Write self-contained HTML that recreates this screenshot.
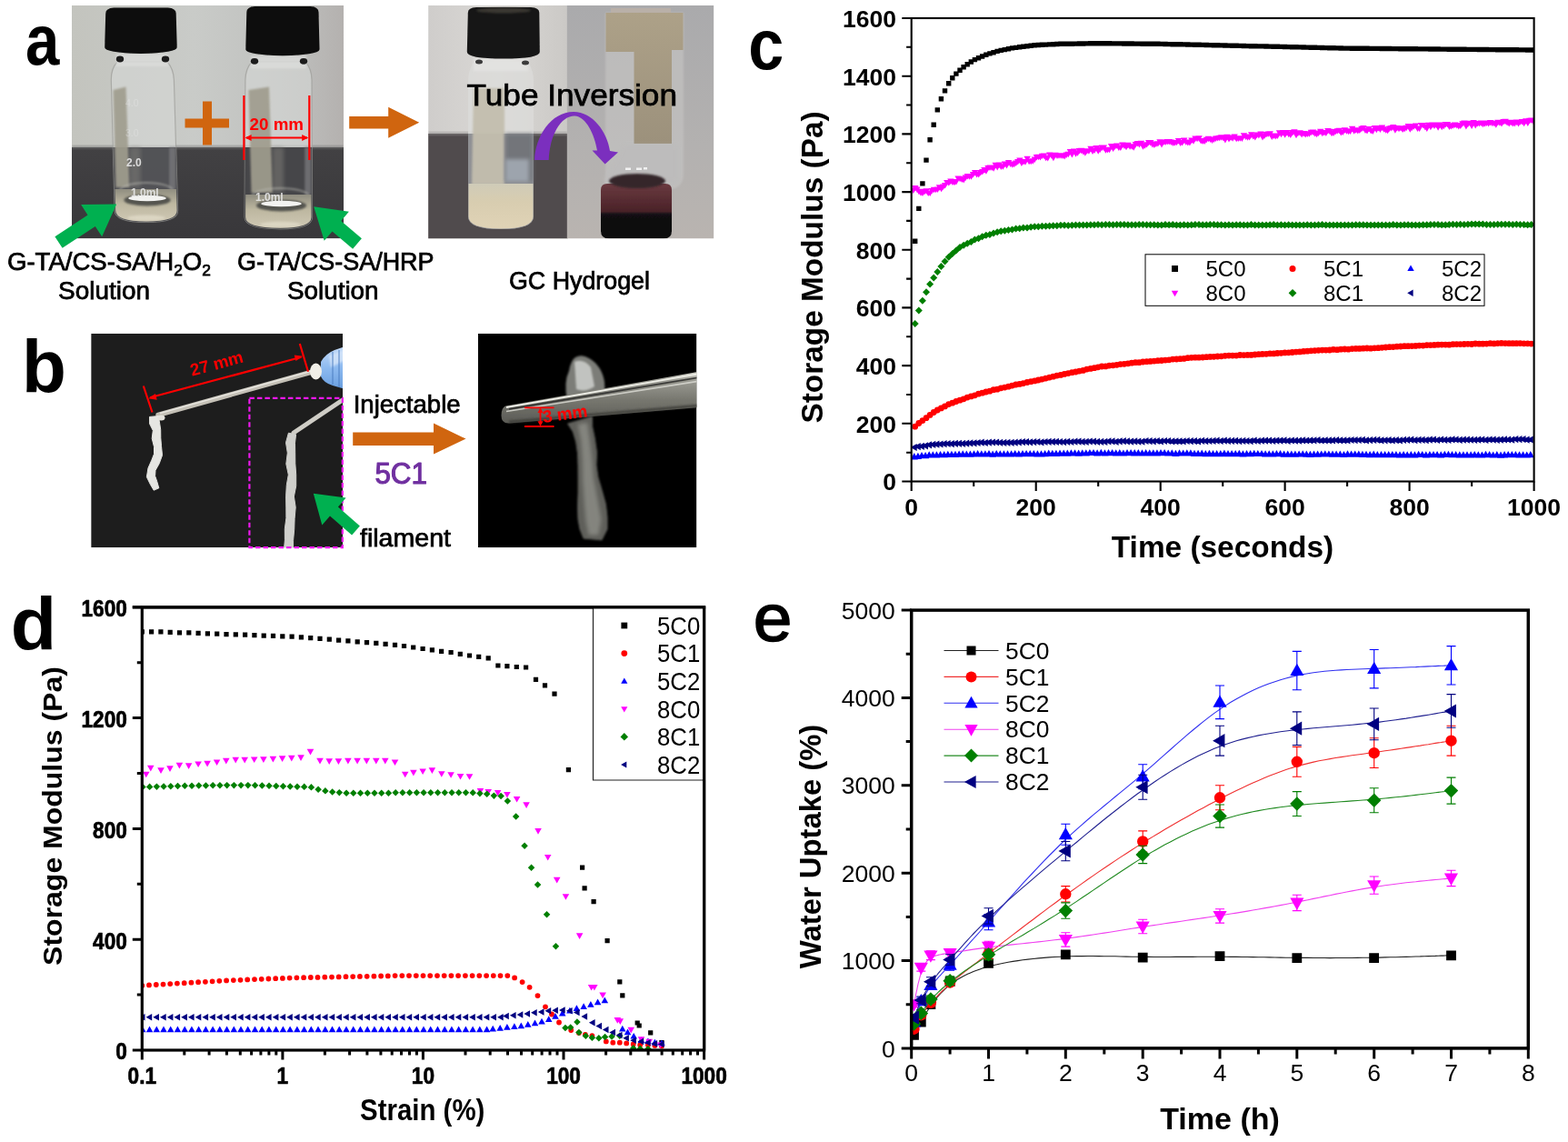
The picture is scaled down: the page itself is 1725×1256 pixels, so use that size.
<!DOCTYPE html>
<html lang="en">
<head>
<meta charset="utf-8">
<title>Figure: GC hydrogel gelation, injectability, rheology and water uptake</title>
<style>
html,body{margin:0;padding:0;background:#ffffff;}
body{width:1725px;height:1256px;overflow:hidden;font-family:"Liberation Sans",Arial,Helvetica,sans-serif;}
svg{display:block;}
text{white-space:pre;}
</style>
</head>
<body>
<svg width="1725" height="1256" viewBox="0 0 1725 1256">
<rect width="1725" height="1256" fill="#ffffff"/>
<g id="panel-a">
<defs>
<filter id="b1" x="-20%" y="-20%" width="140%" height="140%"><feGaussianBlur stdDeviation="1"/></filter>
<filter id="b2" x="-20%" y="-20%" width="140%" height="140%"><feGaussianBlur stdDeviation="2"/></filter>
<filter id="b3" x="-30%" y="-30%" width="160%" height="160%"><feGaussianBlur stdDeviation="3.5"/></filter>
<filter id="b05" x="-20%" y="-20%" width="140%" height="140%"><feGaussianBlur stdDeviation="0.6"/></filter>
<linearGradient id="wall1" x1="0" y1="0" x2="1" y2="0"><stop offset="0" stop-color="#c3c4be"/><stop offset="0.45" stop-color="#c9cbc8"/><stop offset="0.8" stop-color="#bfc0be"/><stop offset="1" stop-color="#b4b1af"/></linearGradient>
<linearGradient id="tab1" x1="0" y1="0" x2="0" y2="1"><stop offset="0" stop-color="#424143"/><stop offset="1" stop-color="#38373a"/></linearGradient>
<linearGradient id="wall2" x1="0" y1="0" x2="1" y2="0"><stop offset="0" stop-color="#cfcdcb"/><stop offset="0.5" stop-color="#dad8d5"/><stop offset="1" stop-color="#cbc9c6"/></linearGradient>
<linearGradient id="wall3" x1="0" y1="0" x2="0" y2="1"><stop offset="0" stop-color="#aaaaac"/><stop offset="0.6" stop-color="#b3b1b0"/><stop offset="1" stop-color="#b9b4b0"/></linearGradient>
<linearGradient id="liq1" x1="0" y1="0" x2="0" y2="1"><stop offset="0" stop-color="#8f8d80"/><stop offset="0.45" stop-color="#bdb7a0"/><stop offset="1" stop-color="#cfc8b4"/></linearGradient>
<linearGradient id="cream" x1="0" y1="0" x2="0" y2="1"><stop offset="0" stop-color="#cfcbb8"/><stop offset="0.4" stop-color="#d8cdb0"/><stop offset="1" stop-color="#e0d3b6"/></linearGradient>
<linearGradient id="gel" x1="0" y1="0" x2="0" y2="1"><stop offset="0" stop-color="#ada188"/><stop offset="1" stop-color="#9c917c"/></linearGradient>
<linearGradient id="capm" x1="0" y1="0" x2="0" y2="1"><stop offset="0" stop-color="#6a3a40"/><stop offset="0.5" stop-color="#4a2228"/><stop offset="0.56" stop-color="#121012"/><stop offset="1" stop-color="#0c0c0c"/></linearGradient>
<clipPath id="cp1"><rect x="79" y="6" width="299" height="256.2"/></clipPath>
<clipPath id="cp2"><rect x="471.2" y="6" width="314" height="256.2"/></clipPath>
</defs>
<g clip-path="url(#cp1)">
<rect x="79" y="6" width="299" height="157" fill="url(#wall1)"/>
<rect x="79" y="162" width="299" height="100.5" fill="url(#tab1)"/>
<rect x="79" y="160" width="299" height="3.5" fill="#7c7c7c" opacity="0.55" filter="url(#b1)"/>
<path d="M129 68 Q122 76 122.3 88 L126.2 231.5 Q126.5 244.5 161 244.5 Q196 244.5 195.6 231.5 L191.4 88 Q191 76 184 68z" fill="#d6d8d6" opacity="0.62" filter="url(#b05)"/>
<path d="M129 68 Q122 76 122.3 88 L126.2 231.5 Q126.5 244.5 161 244.5 Q196 244.5 195.6 231.5 L191.4 88 Q191 76 184 68z" fill="none" stroke="#9c9c98" stroke-width="1.2" opacity="0.7" filter="url(#b05)"/>
<path d="M124.3 162 H193.6 L195.6 231.5 Q196 244.5 161 244.5 Q126.5 244.5 126.2 231.5z" fill="#505052" opacity="0.95" filter="url(#b05)"/>
<rect x="186.1" y="162" width="7" height="46" fill="#77777a" opacity="0.8" filter="url(#b1)"/>
<path d="M124.5 99 L138.5 95.5 L142.5 206 H127.5z" fill="#a09d8e" opacity="0.92" filter="url(#b1)"/>
<rect x="142.5" y="162" width="12" height="44" fill="#7b7a76" opacity="0.55" filter="url(#b2)"/>
<ellipse cx="161" cy="210" rx="29.2" ry="9" fill="none" stroke="#b9b9b2" stroke-width="2" opacity="0.55" filter="url(#b1)"/>
<path d="M126.5 208 H193.9 L194.6 231.5 Q195 243.5 161 243.5 Q127.5 243.5 127.2 231.5z" fill="url(#liq1)" filter="url(#b05)"/>
<ellipse cx="162" cy="220" rx="25.7" ry="6.5" fill="#55554f" filter="url(#b1)"/>
<ellipse cx="162" cy="218" rx="20.8" ry="3.2" fill="#f2f2f0" filter="url(#b05)"/>
<ellipse cx="161" cy="239.5" rx="20.8" ry="3" fill="#e9e4d2" opacity="0.55" filter="url(#b1)"/>
<rect x="128" y="59" width="57" height="14" fill="#dcdddb" opacity="0.8" filter="url(#b1)"/>
<ellipse cx="132" cy="65" rx="4.2" ry="3.4" fill="#1c1c1c" filter="url(#b05)"/>
<ellipse cx="182" cy="65" rx="4.2" ry="3.4" fill="#1c1c1c" filter="url(#b05)"/>
<path d="M142 78 h4 M155 78 h3 M167 78 h5" stroke="#ffffff" stroke-width="3" opacity="0.9" filter="url(#b05)"/>
<path d="M116.2 15.1 Q116.2 9.1 125.2 8.6 H184.7 Q193.7 9.1 193.7 15.1 L194.7 52 Q194.7 58 154.9 59 Q115.2 58 115.2 52z" fill="#0b0b0b" filter="url(#b05)"/>
<path d="M277 68 Q270 76 269.9 88 L269.1 238.8 Q269 251.8 308.5 251.8 Q343.5 251.8 343.5 238.8 L343 88 Q343 76 336 68z" fill="#d6d8d6" opacity="0.62" filter="url(#b05)"/>
<path d="M277 68 Q270 76 269.9 88 L269.1 238.8 Q269 251.8 308.5 251.8 Q343.5 251.8 343.5 238.8 L343 88 Q343 76 336 68z" fill="none" stroke="#9c9c98" stroke-width="1.2" opacity="0.7" filter="url(#b05)"/>
<path d="M269.5 162 H343.2 L343.5 238.8 Q343.5 251.8 308.5 251.8 Q269 251.8 269.1 238.8z" fill="#434345" opacity="0.95" filter="url(#b05)"/>
<rect x="335.3" y="162" width="7" height="52" fill="#77777a" opacity="0.8" filter="url(#b1)"/>
<path d="M273.5 99 L296 95.5 L300 212 H276.5z" fill="#a09d8e" opacity="0.92" filter="url(#b1)"/>
<rect x="300" y="162" width="12" height="50" fill="#7b7a76" opacity="0.55" filter="url(#b2)"/>
<ellipse cx="308.5" cy="216" rx="31.3" ry="9" fill="none" stroke="#b9b9b2" stroke-width="2" opacity="0.55" filter="url(#b1)"/>
<path d="M270.2 214 H342.4 L342.5 238.8 Q342.5 250.8 308.5 250.8 Q270 250.8 270.1 238.8z" fill="url(#liq1)" filter="url(#b05)"/>
<ellipse cx="309.5" cy="226" rx="27.6" ry="6.5" fill="#55554f" filter="url(#b1)"/>
<ellipse cx="309.5" cy="224" rx="22.3" ry="3.2" fill="#f2f2f0" filter="url(#b05)"/>
<ellipse cx="308.5" cy="246.8" rx="22.3" ry="3" fill="#e9e4d2" opacity="0.55" filter="url(#b1)"/>
<rect x="276" y="61.3" width="61" height="14" fill="#dcdddb" opacity="0.8" filter="url(#b1)"/>
<ellipse cx="280" cy="67.3" rx="4.2" ry="3.4" fill="#1c1c1c" filter="url(#b05)"/>
<ellipse cx="334" cy="67.3" rx="4.2" ry="3.4" fill="#1c1c1c" filter="url(#b05)"/>
<path d="M289.5 78 h4 M302.5 78 h3 M314.5 78 h5" stroke="#ffffff" stroke-width="3" opacity="0.9" filter="url(#b05)"/>
<path d="M271.3 13.5 Q271.3 7.5 280.3 7 H341.5 Q350.5 7.5 350.5 13.5 L351.5 54.3 Q351.5 60.3 310.9 61.3 Q270.3 60.3 270.3 54.3z" fill="#0b0b0b" filter="url(#b05)"/>
<g font-family='"Liberation Sans", Arial, Helvetica, sans-serif' font-size="10.5" fill="#e8e8e8" opacity="0.9" filter="url(#b05)"><text x="138" y="117" opacity="0.5">4.0</text><text x="138" y="150" opacity="0.45">3.0</text><text x="139" y="183" font-size="12" font-weight="bold">2.0</text><text x="144" y="216" font-size="12" font-weight="bold">1.0ml</text><text x="281" y="221" font-size="12" font-weight="bold">1.0ml</text></g>
</g>
<path d="M203.5 130.5H252V140.5H203.5zM223 111.5H233V159.5H223z" fill="#d0650f"/>
<path d="M268.4 105V176M340.3 105V176M271 151.5H338" stroke="#ff0000" stroke-width="2.2" fill="none"/>
<path d="M269.6 151.5l7-3.4v6.8zM339.2 151.5l-7-3.4v6.8z" fill="#ff0000"/>
<text x="304.3" y="143.3" text-anchor="middle" font-family='"Liberation Sans", Arial, Helvetica, sans-serif' font-size="18.8" font-weight="bold" fill="#ff0000">20 mm</text>
<path d="M68.6 272.8L104.8 248.9L112.2 260.2L128.2 224.5L89.1 225.1L96.5 236.4L60.4 260.2z" fill="#00b050"/>
<path d="M397.9 262.3L375.2 243L383.9 232.7L345.2 227.3L356.7 264.7L365.5 254.4L388.1 273.7z" fill="#00b050"/>
<path d="M384.2 141.6L427.2 141.6L427.2 151.8L461.2 134.8L427.2 117.8L427.2 128.1L384.2 128.1z" fill="#d0650f"/>
<g clip-path="url(#cp2)">
<rect x="471" y="6" width="153.5" height="257" fill="url(#wall2)"/>
<rect x="471" y="147" width="153.5" height="116" fill="#504b4d"/>
<rect x="471" y="145" width="153.5" height="4" fill="#8a8888" opacity="0.5" filter="url(#b1)"/>
<rect x="623.8" y="6" width="162" height="257" fill="url(#wall3)"/>
<path d="M521 68 Q515 78 515 90 V238 Q515 252 551 252 Q587 252 587 238 V90 Q587 78 581 68z" fill="#dcdcda" opacity="0.8" filter="url(#b05)"/>
<path d="M515 147 H587 V238 Q587 252 551 252 Q515 252 515 238z" fill="#8a8c90" opacity="0.9" filter="url(#b05)"/>
<path d="M521 97 H555 V203 H519z" fill="#c3beae" opacity="0.95" filter="url(#b1)"/>
<path d="M556 147 H586 V200 H556z" fill="#6f7378" opacity="0.9" filter="url(#b2)"/>
<path d="M556 175 H582 V200 H556z" fill="#a8b0ba" opacity="0.8" filter="url(#b2)"/>
<path d="M515.5 202 H586.5 V238 Q586.5 251.5 551 251.5 Q515.5 251.5 515.5 238z" fill="url(#cream)" filter="url(#b05)"/>
<rect x="521" y="64" width="60" height="14" fill="#e4e4e2" opacity="0.8" filter="url(#b1)"/>
<ellipse cx="527" cy="68" rx="4" ry="2.5" fill="#3a3a3a" filter="url(#b05)"/><ellipse cx="578" cy="69" rx="4" ry="2.5" fill="#3a3a3a" filter="url(#b05)"/>
<path d="M538 82h4M551 82h3M564 82h5" stroke="#fff" stroke-width="3" filter="url(#b05)"/>
<path d="M514.8 14 Q514.8 8.3 524 8 H584 Q593.3 8.3 593.3 14 L593.8 57 Q593.8 64.5 554 64.5 Q513.8 64.5 513.8 57z" fill="#171717" filter="url(#b05)"/>
<ellipse cx="554" cy="11.5" rx="30" ry="3" fill="#3b3832" filter="url(#b1)"/>
<path d="M666 14 H752 V190 Q752 205 740 208 H664 Q666 200 666 190z" fill="#c2c1c0" opacity="0.75" filter="url(#b1)"/>
<path d="M666.5 14 H751.5 V55 H739 V158 H697.5 V57 H666.5z" fill="url(#gel)" filter="url(#b05)"/><path d="M667 15.5H751" stroke="#cfc8b4" stroke-width="2" opacity="0.8" filter="url(#b05)"/><path d="M699 58 V156" stroke="#c9c6bc" stroke-width="2" opacity="0.6" filter="url(#b1)"/><path d="M741 60 V156" stroke="#d2d0c8" stroke-width="2.5" opacity="0.6" filter="url(#b1)"/>
<path d="M672 9 H738 V14 H672z" fill="#b9b0a8" filter="url(#b05)"/>
<path d="M686 160 H745 V200 H664z" fill="#bdbcbc" opacity="0.9" filter="url(#b2)"/>
<path d="M661 209 Q661 202 668 202 H732 Q739 202 739 209 V254 Q739 262.5 730 262.5 H670 Q661 262.5 661 254z" fill="url(#capm)" filter="url(#b05)"/>
<ellipse cx="701" cy="199" rx="31" ry="8" fill="#35272b" filter="url(#b1)"/>
<path d="M688 186h6M700 186h6M708 185h4" stroke="#fff" stroke-width="3" opacity="0.8" filter="url(#b05)"/>
</g>
<path d="M588 176 C589 150 606 123 631 123 C652 123 668 145 671 166 L680 167.5 L665.6 180.5 L651.5 165.5 L657 165.5 C654 148 645 128 632 127.5 C617 127.5 605 148 603.7 176z" fill="#7b2fbe"/>
<text x="513.6" y="115.8" textLength="231.4" lengthAdjust="spacingAndGlyphs" font-family='"Liberation Sans", Arial, Helvetica, sans-serif' font-size="32.4" font-weight="normal" fill="#000" stroke="#000" stroke-width="0.75">Tube Inversion</text>
<text x="8" y="296.5" textLength="224" lengthAdjust="spacingAndGlyphs" font-family='"Liberation Sans", Arial, Helvetica, sans-serif' font-size="27" fill="#000" stroke="#000" stroke-width="0.75">G-TA/CS-SA/H<tspan font-size="17" dy="6">2</tspan><tspan dy="-6">O</tspan><tspan font-size="17" dy="6">2</tspan></text>
<text x="64" y="328.5" textLength="101" lengthAdjust="spacingAndGlyphs" font-family='"Liberation Sans", Arial, Helvetica, sans-serif' font-size="27" font-weight="normal" fill="#000" stroke="#000" stroke-width="0.75">Solution</text>
<text x="261" y="296.5" textLength="216.5" lengthAdjust="spacingAndGlyphs" font-family='"Liberation Sans", Arial, Helvetica, sans-serif' font-size="27" font-weight="normal" fill="#000" stroke="#000" stroke-width="0.75">G-TA/CS-SA/HRP</text>
<text x="316" y="328.5" textLength="100.5" lengthAdjust="spacingAndGlyphs" font-family='"Liberation Sans", Arial, Helvetica, sans-serif' font-size="27" font-weight="normal" fill="#000" stroke="#000" stroke-width="0.75">Solution</text>
<text x="560" y="318" textLength="155" lengthAdjust="spacingAndGlyphs" font-family='"Liberation Sans", Arial, Helvetica, sans-serif' font-size="27" font-weight="normal" fill="#000" stroke="#000" stroke-width="0.75">GC Hydrogel</text>
<text transform="translate(27.98,71.22) scale(0.672,0.784)" font-family='"Liberation Sans", Arial, Helvetica, sans-serif' font-weight="bold" font-size="100" fill="#000">a</text>
</g>
<g id="panel-b">
<defs>
<clipPath id="cpb1"><rect x="100.2" y="366.8" width="276.8" height="235.4"/></clipPath>
<clipPath id="cpb2"><rect x="525.8" y="366.8" width="240.6" height="235.4"/></clipPath>
<linearGradient id="tw" x1="0" y1="0" x2="0" y2="1"><stop offset="0" stop-color="#d8d8d0"/><stop offset="0.18" stop-color="#9a9a92"/><stop offset="0.55" stop-color="#77776f"/><stop offset="1" stop-color="#5a5a55"/></linearGradient>
<linearGradient id="hub" x1="0" y1="0" x2="0" y2="1"><stop offset="0" stop-color="#c6dcf8"/><stop offset="0.5" stop-color="#8dbaf0"/><stop offset="1" stop-color="#6a9fdf"/></linearGradient>
</defs>
<g clip-path="url(#cpb1)">
<rect x="100.2" y="366.8" width="276.8" height="235.4" fill="#1d1d1d"/>
<path d="M174 456.3 L343 409.2" stroke="#c4c0b6" stroke-width="5.4" stroke-linecap="round" filter="url(#b05)"/>
<path d="M176 454.6 L343 408" stroke="#e6e4de" stroke-width="1.6" filter="url(#b05)"/>
<path d="M353 398 Q358 389 368 385 L380 381 V428 L366 424 Q356 421 353 414z" fill="url(#hub)" filter="url(#b05)"/>
<path d="M362 391 L380 384 V396 L364 404z" fill="#d6e6fa" opacity="0.8" filter="url(#b1)"/><path d="M366 387V423M373 385V426" stroke="#4a7cc0" stroke-width="1.6" opacity="0.6" filter="url(#b05)"/>
<ellipse cx="347.5" cy="408.5" rx="6.5" ry="9" fill="#f1efe8" filter="url(#b05)"/>
<path d="M164.5 458.4L164.6 466.1L168.3 473.5L167.2 482.3L169.5 491.4L169.5 499.3L166.8 506.2L163 514.7L161.4 524.6L165.3 532.6L169.2 539.2L174.8 536.8L172.7 529.4L170.6 523.4L171 517.3L175.2 509.8L178.5 500.7L177.5 490.6L176.8 481.7L176.7 472.5L175.4 463.9L174.5 457.6z" fill="#e6e6e2" opacity="1" filter="url(#b05)" stroke="#e6e6e2" stroke-width="1" stroke-linejoin="round"/>
<ellipse cx="177.5" cy="459.5" rx="4" ry="3" fill="#e4e2dc" filter="url(#b05)"/>
<path d="M376 440.5 L323 476" stroke="#cfcdc6" stroke-width="5" stroke-linecap="round" filter="url(#b05)"/>
<path d="M317.4 476.2L314.5 486.8L316.3 498.1L314.8 510.2L317.3 522.1L315.3 533.5L314.6 545.9L314.8 558.1L314.9 569.7L313.3 581.7L313.4 593.8L312.5 603.8L322.5 604.2L322.6 594.2L323.7 582.3L324.1 570.3L325.2 557.9L323.4 546.1L325.7 534.5L325.7 521.9L324.8 509.8L324.7 497.9L324.5 487.2L325.6 477.8z" fill="#cfcfcb" opacity="1" filter="url(#b05)" stroke="#cfcfcb" stroke-width="1" stroke-linejoin="round"/>
</g>
<rect x="274.4" y="437.8" width="102.4" height="164.3" fill="none" stroke="#f018f0" stroke-width="2.2" stroke-dasharray="5.5 3"/>
<path d="M157.8 424.5L167.5 453.5M329.8 378L339 408.8M165 437.3L331.5 392.8" stroke="#ff0000" stroke-width="2.2" fill="none"/>
<path d="M163.2 438.3l7.7-5.2 1.8 6.6zM333.2 391.8l-7.7 5.2-1.8-6.6z" fill="#ff0000"/>
<text transform="translate(240,406) rotate(-15.3)" text-anchor="middle" font-family='"Liberation Sans", Arial, Helvetica, sans-serif' font-size="18.8" font-weight="bold" fill="#ff0000">27 mm</text>
<path d="M395.9 578.4L371.9 557.4L380.6 547.4L344.8 542.8L354.3 577.6L363 567.6L387.1 588.6z" fill="#00b050"/>
<text x="388.7" y="454.3" textLength="117.9" lengthAdjust="spacingAndGlyphs" font-family='"Liberation Sans", Arial, Helvetica, sans-serif' font-size="27.5" font-weight="normal" fill="#000" stroke="#000" stroke-width="0.75">Injectable</text>
<path d="M388.2 489.9L477 489.9L477 499.6L512.5 482.6L477 465.6L477 475.4L388.2 475.4z" fill="#d0650f"/>
<text x="412.4" y="532" textLength="57.6" lengthAdjust="spacingAndGlyphs" font-family='"Liberation Sans", Arial, Helvetica, sans-serif' font-size="33" fill="#7030a0" stroke="#7030a0" stroke-width="1.1" stroke-linejoin="round">5C1</text>
<text x="396" y="600.5" textLength="100" lengthAdjust="spacingAndGlyphs" font-family='"Liberation Sans", Arial, Helvetica, sans-serif' font-size="27.5" font-weight="normal" fill="#000" stroke="#000" stroke-width="0.75">filament</text>
<g clip-path="url(#cpb2)">
<rect x="525.8" y="366.8" width="240.6" height="235.4" fill="#000"/>
<path d="M633 393 Q640 389 648 394 Q662 402 665 420 L666 440 H624 Q620 420 626 408 Q628 396 633 393z" fill="#7c7d78" filter="url(#b1)"/>
<path d="M632 398 Q642 394 650 404 L654 425 Q644 432 634 428z" fill="#d9dbd8" opacity="0.75" filter="url(#b1)"/>
<path d="M556 446.5 L770 408.5 V448 L560 465.5 Q551.5 466 551.5 457 Q551.5 448.5 556 446.5z" fill="url(#tw)" filter="url(#b05)"/>
<path d="M557 448 L770 411" stroke="#efefe8" stroke-width="1.8" filter="url(#b05)"/><path d="M557 452.5 L770 419" stroke="#d9d9d2" stroke-width="1.6" opacity="0.85" filter="url(#b05)"/>
<path d="M560 449.8 L770 415" stroke="#2c2c2a" stroke-width="1.8" opacity="0.85" filter="url(#b05)"/>
<path d="M560 464 L770 446" stroke="#3c3c38" stroke-width="2.5" filter="url(#b1)"/>
<path d="M624.6 466L630.4 474.9L633.7 486L635.5 498.7L636 512.4L636.1 527.2L636.1 541.7L635.6 557.5L636 571.2L638 582L642 592.1L662 593.9L668 582L668 568.8L666.4 554.5L661.9 538.3L657.9 524.8L656 511.6L656.5 497.3L654.3 482L651.6 469.1L651.4 458z" fill="#5e5f5a" opacity="1" filter="url(#b1)" stroke="#5e5f5a" stroke-width="1" stroke-linejoin="round"/>
<path d="M636.1 466.8L639.5 484.6L641 505.4L641.5 526.5L643.1 550.9L645 572.6L648 588L658 588L661 571.4L656.9 549.1L652.5 525.5L651 504.6L648.5 483.4L645.9 465.2z" fill="#a9aaa3" opacity="0.5" filter="url(#b2)" stroke="#a9aaa3" stroke-width="1" stroke-linejoin="round"/>
</g>
<path d="M577 448.3H609.5M577 469H609.5M594.5 450V467" stroke="#ff0000" stroke-width="1.8" fill="none"/>
<path d="M594.5 448.6l3 5.5h-6zM594.5 468.7l3-5.5h-6z" fill="#ff0000"/>
<text transform="translate(622.5,461.5) rotate(-8)" text-anchor="middle" font-family='"Liberation Sans", Arial, Helvetica, sans-serif' font-size="19" font-weight="bold" fill="#ff0000">3 mm</text>
<text transform="translate(24,431.1) scale(0.8,0.818)" font-family='"Liberation Sans", Arial, Helvetica, sans-serif' font-weight="bold" font-size="100" fill="#000">b</text>
</g>
<g id="panel-c">
<defs><clipPath id="cpc"><rect x="1002.7" y="20" width="684.9" height="509.5"/></clipPath></defs>
<g clip-path="url(#cpc)">
<path d="M1005.8 498.1L1009.9 505.4L1001.7 505.4zM1009.9 497.7L1014 504.9L1005.8 504.9zM1014 497L1018.1 504.2L1009.9 504.2zM1018.1 497L1022.2 504.2L1014 504.2zM1022.2 496.3L1026.3 503.5L1018.1 503.5zM1026.3 496.2L1030.4 503.4L1022.2 503.4zM1030.4 496.3L1034.5 503.5L1026.3 503.5zM1034.5 495.9L1038.6 503.1L1030.5 503.1zM1038.7 496L1042.8 503.3L1034.6 503.3zM1042.8 495.7L1046.9 502.9L1038.7 502.9zM1046.9 495.8L1051 503L1042.8 503zM1051 495.8L1055.1 503L1046.9 503zM1055.1 495.5L1059.2 502.7L1051 502.7zM1059.2 495.2L1063.3 502.4L1055.1 502.4zM1063.3 495.6L1067.4 502.8L1059.2 502.8zM1067.4 495.5L1071.5 502.7L1063.3 502.7zM1071.5 495.2L1075.6 502.4L1067.4 502.4zM1075.6 495L1079.7 502.2L1071.5 502.2zM1079.8 495.2L1083.8 502.4L1075.7 502.4zM1083.9 495.3L1088 502.5L1079.8 502.5zM1088 494.9L1092.1 502.1L1083.9 502.1zM1092.1 495.5L1096.2 502.7L1088 502.7zM1096.2 494.9L1100.3 502.1L1092.1 502.1zM1100.3 495.3L1104.4 502.5L1096.2 502.5zM1104.4 495.3L1108.5 502.6L1100.3 502.6zM1108.5 495.3L1112.6 502.6L1104.4 502.6zM1112.6 495.2L1116.7 502.4L1108.5 502.4zM1116.7 494.9L1120.8 502.1L1112.6 502.1zM1120.8 495.2L1124.9 502.5L1116.8 502.5zM1125 495L1129 502.2L1120.9 502.2zM1129.1 494.9L1133.2 502.1L1125 502.1zM1133.2 495.1L1137.3 502.3L1129.1 502.3zM1137.3 494.9L1141.4 502.2L1133.2 502.2zM1141.4 495.2L1145.5 502.4L1137.3 502.4zM1145.5 495.2L1149.6 502.4L1141.4 502.4zM1149.6 495L1153.7 502.2L1145.5 502.2zM1153.7 494.6L1157.8 501.9L1149.6 501.9zM1157.8 494.8L1161.9 502L1153.7 502zM1161.9 494.8L1166 502L1157.8 502zM1166 494.5L1170.1 501.8L1162 501.8zM1170.2 494.6L1174.3 501.8L1166.1 501.8zM1174.3 494.6L1178.4 501.8L1170.2 501.8zM1178.4 494.2L1182.5 501.4L1174.3 501.4zM1182.5 494.2L1186.6 501.4L1178.4 501.4zM1186.6 494.5L1190.7 501.7L1182.5 501.7zM1190.7 494.2L1194.8 501.4L1186.6 501.4zM1194.8 494.2L1198.9 501.4L1190.7 501.4zM1198.9 493.9L1203 501.1L1194.8 501.1zM1203 493.9L1207.1 501.1L1198.9 501.1zM1207.1 494.2L1211.2 501.4L1203 501.4zM1211.3 493.7L1215.3 500.9L1207.2 500.9zM1215.4 494.3L1219.5 501.5L1211.3 501.5zM1219.5 494.1L1223.6 501.3L1215.4 501.3zM1223.6 493.9L1227.7 501.1L1219.5 501.1zM1227.7 494.3L1231.8 501.5L1223.6 501.5zM1231.8 494.1L1235.9 501.3L1227.7 501.3zM1235.9 494.4L1240 501.6L1231.8 501.6zM1240 494L1244.1 501.3L1235.9 501.3zM1244.1 494L1248.2 501.2L1240 501.2zM1248.2 494.1L1252.3 501.4L1244.1 501.4zM1252.3 494L1256.4 501.2L1248.3 501.2zM1256.5 494.3L1260.6 501.6L1252.4 501.6zM1260.6 494.1L1264.7 501.3L1256.5 501.3zM1264.7 494.2L1268.8 501.4L1260.6 501.4zM1268.8 494.2L1272.9 501.4L1264.7 501.4zM1272.9 494.3L1277 501.5L1268.8 501.5zM1277 494.1L1281.1 501.3L1272.9 501.3zM1281.1 494.1L1285.2 501.3L1277 501.3zM1285.2 494.4L1289.3 501.6L1281.1 501.6zM1289.3 494.3L1293.4 501.5L1285.2 501.5zM1293.4 494.7L1297.5 501.9L1289.3 501.9zM1297.5 494.3L1301.6 501.6L1293.5 501.6zM1301.7 494.4L1305.8 501.6L1297.6 501.6zM1305.8 494.2L1309.9 501.4L1301.7 501.4zM1309.9 494.3L1314 501.6L1305.8 501.6zM1314 494.7L1318.1 501.9L1309.9 501.9zM1318.1 494.7L1322.2 501.9L1314 501.9zM1322.2 494.5L1326.3 501.7L1318.1 501.7zM1326.3 495L1330.4 502.2L1322.2 502.2zM1330.4 494.7L1334.5 501.9L1326.3 501.9zM1334.5 494.9L1338.6 502.2L1330.4 502.2zM1338.6 495L1342.7 502.2L1334.5 502.2zM1342.8 495.1L1346.8 502.3L1338.7 502.3zM1346.9 494.6L1351 501.9L1342.8 501.9zM1351 495.1L1355.1 502.3L1346.9 502.3zM1355.1 495L1359.2 502.2L1351 502.2zM1359.2 495L1363.3 502.2L1355.1 502.2zM1363.3 494.7L1367.4 501.9L1359.2 501.9zM1367.4 495.2L1371.5 502.4L1363.3 502.4zM1371.5 495L1375.6 502.2L1367.4 502.2zM1375.6 495L1379.7 502.2L1371.5 502.2zM1379.7 494.8L1383.8 502L1375.6 502zM1383.8 494.9L1387.9 502.1L1379.8 502.1zM1388 494.9L1392.1 502.1L1383.9 502.1zM1392.1 495.3L1396.2 502.5L1388 502.5zM1396.2 495.2L1400.3 502.4L1392.1 502.4zM1400.3 495.3L1404.4 502.5L1396.2 502.5zM1404.4 495L1408.5 502.2L1400.3 502.2zM1408.5 494.9L1412.6 502.2L1404.4 502.2zM1412.6 495.5L1416.7 502.7L1408.5 502.7zM1416.7 495.5L1420.8 502.7L1412.6 502.7zM1420.8 495.5L1424.9 502.7L1416.7 502.7zM1424.9 495.5L1429 502.7L1420.8 502.7zM1429.1 495.4L1433.1 502.6L1425 502.6zM1433.2 495.3L1437.3 502.5L1429.1 502.5zM1437.3 495.5L1441.4 502.8L1433.2 502.8zM1441.4 495.7L1445.5 502.9L1437.3 502.9zM1445.5 495.5L1449.6 502.7L1441.4 502.7zM1449.6 495.5L1453.7 502.7L1445.5 502.7zM1453.7 495.4L1457.8 502.6L1449.6 502.6zM1457.8 495.2L1461.9 502.4L1453.7 502.4zM1461.9 495.4L1466 502.6L1457.8 502.6zM1466 495.5L1470.1 502.7L1461.9 502.7zM1470.1 495.5L1474.2 502.7L1466 502.7zM1474.3 495.4L1478.3 502.7L1470.2 502.7zM1478.4 495.9L1482.5 503.1L1474.3 503.1zM1482.5 495.3L1486.6 502.6L1478.4 502.6zM1486.6 495.4L1490.7 502.7L1482.5 502.7zM1490.7 495.4L1494.8 502.6L1486.6 502.6zM1494.8 495.5L1498.9 502.7L1490.7 502.7zM1498.9 495.7L1503 503L1494.8 503zM1503 495.8L1507.1 503L1498.9 503zM1507.1 496L1511.2 503.2L1503 503.2zM1511.2 495.6L1515.3 502.9L1507.1 502.9zM1515.3 496L1519.4 503.2L1511.3 503.2zM1519.5 496L1523.6 503.3L1515.4 503.3zM1523.6 496L1527.7 503.2L1519.5 503.2zM1527.7 496L1531.8 503.2L1523.6 503.2zM1531.8 495.9L1535.9 503.1L1527.7 503.1zM1535.9 496.1L1540 503.3L1531.8 503.3zM1540 496.2L1544.1 503.4L1535.9 503.4zM1544.1 496.1L1548.2 503.3L1540 503.3zM1548.2 496.2L1552.3 503.4L1544.1 503.4zM1552.3 496L1556.4 503.2L1548.2 503.2zM1556.4 496.2L1560.5 503.4L1552.3 503.4zM1560.6 495.7L1564.6 502.9L1556.5 502.9zM1564.7 495.9L1568.8 503.1L1560.6 503.1zM1568.8 496.2L1572.9 503.4L1564.7 503.4zM1572.9 496.1L1577 503.3L1568.8 503.3zM1577 496.1L1581.1 503.3L1572.9 503.3zM1581.1 496.1L1585.2 503.3L1577 503.3zM1585.2 496.2L1589.3 503.4L1581.1 503.4zM1589.3 495.8L1593.4 503L1585.2 503zM1593.4 495.7L1597.5 502.9L1589.3 502.9zM1597.5 496L1601.6 503.3L1593.4 503.3zM1601.6 496L1605.7 503.3L1597.6 503.3zM1605.8 496.3L1609.8 503.5L1601.7 503.5zM1609.9 496.3L1614 503.5L1605.8 503.5zM1614 496.2L1618.1 503.4L1609.9 503.4zM1618.1 496.2L1622.2 503.4L1614 503.4zM1622.2 495.9L1626.3 503.1L1618.1 503.1zM1626.3 496.3L1630.4 503.5L1622.2 503.5zM1630.4 496.4L1634.5 503.6L1626.3 503.6zM1634.5 495.8L1638.6 503L1630.4 503zM1638.6 496.1L1642.7 503.3L1634.5 503.3zM1642.7 496.4L1646.8 503.6L1638.6 503.6zM1646.8 496.1L1650.9 503.3L1642.8 503.3zM1651 496.4L1655.1 503.7L1646.9 503.7zM1655.1 496.1L1659.2 503.4L1651 503.4zM1659.2 495.9L1663.3 503.1L1655.1 503.1zM1663.3 495.9L1667.4 503.2L1659.2 503.2zM1667.4 496.1L1671.5 503.3L1663.3 503.3zM1671.5 496.3L1675.6 503.6L1667.4 503.6zM1675.6 496.3L1679.7 503.5L1671.5 503.5zM1679.7 496.4L1683.8 503.6L1675.6 503.6zM1683.8 496.1L1687.9 503.3L1679.7 503.3z" fill="#0000ff"/>
<path d="M1001.5 492L1008.7 487.9L1008.7 496.1zM1005.6 491.1L1012.8 487L1012.8 495.2zM1009.7 490.8L1016.9 486.7L1016.9 494.9zM1013.8 490.3L1021 486.2L1021 494.4zM1017.9 489.3L1025.1 485.2L1025.1 493.4zM1022 488.9L1029.3 484.8L1029.3 493zM1026.1 488.7L1033.4 484.6L1033.4 492.8zM1030.3 488.5L1037.5 484.4L1037.5 492.6zM1034.4 488.2L1041.6 484.1L1041.6 492.3zM1038.5 488L1045.7 483.9L1045.7 492.1zM1042.6 488.2L1049.8 484.1L1049.8 492.3zM1046.7 487.8L1053.9 483.7L1053.9 491.9zM1050.8 487.8L1058 483.7L1058 491.9zM1054.9 487.9L1062.1 483.8L1062.1 492zM1059 487.7L1066.2 483.6L1066.2 491.8zM1063.1 487.4L1070.3 483.3L1070.3 491.5zM1067.2 487.3L1074.5 483.2L1074.5 491.4zM1071.4 487L1078.6 482.9L1078.6 491.1zM1075.5 486.7L1082.7 482.6L1082.7 490.8zM1079.6 487L1086.8 482.9L1086.8 491.1zM1083.7 486.6L1090.9 482.5L1090.9 490.7zM1087.8 486.5L1095 482.5L1095 490.6zM1091.9 486.5L1099.1 482.4L1099.1 490.6zM1096 486.8L1103.2 482.7L1103.2 490.9zM1100.1 486.9L1107.3 482.8L1107.3 491zM1104.2 486.8L1111.4 482.7L1111.4 490.9zM1108.3 486.8L1115.6 482.7L1115.6 490.9zM1112.4 486.7L1119.7 482.6L1119.7 490.8zM1116.6 486.4L1123.8 482.3L1123.8 490.5zM1120.7 486.1L1127.9 482L1127.9 490.2zM1124.8 486.1L1132 482L1132 490.2zM1128.9 486.3L1136.1 482.2L1136.1 490.4zM1133 486.1L1140.2 482L1140.2 490.2zM1137.1 486L1144.3 481.9L1144.3 490.1zM1141.2 486.4L1148.4 482.3L1148.4 490.5zM1145.3 486L1152.5 481.9L1152.5 490.1zM1149.4 485.8L1156.6 481.7L1156.6 489.9zM1153.5 485.9L1160.8 481.8L1160.8 490zM1157.6 485.9L1164.9 481.8L1164.9 490zM1161.8 486L1169 481.9L1169 490.1zM1165.9 486.2L1173.1 482.1L1173.1 490.3zM1170 485.8L1177.2 481.7L1177.2 489.9zM1174.1 486L1181.3 481.9L1181.3 490.1zM1178.2 485.7L1185.4 481.6L1185.4 489.8zM1182.3 485.6L1189.5 481.5L1189.5 489.7zM1186.4 485.9L1193.6 481.8L1193.6 490zM1190.5 485.9L1197.7 481.8L1197.7 490zM1194.6 485.5L1201.8 481.4L1201.8 489.6zM1198.7 485.6L1206 481.5L1206 489.7zM1202.9 485.9L1210.1 481.8L1210.1 490zM1207 485.9L1214.2 481.8L1214.2 490zM1211.1 485.9L1218.3 481.8L1218.3 490zM1215.2 485.4L1222.4 481.3L1222.4 489.5zM1219.3 485.4L1226.5 481.3L1226.5 489.5zM1223.4 485.8L1230.6 481.7L1230.6 489.9zM1227.5 485.3L1234.7 481.2L1234.7 489.4zM1231.6 485.2L1238.8 481.1L1238.8 489.3zM1235.7 485.4L1242.9 481.3L1242.9 489.5zM1239.8 485.6L1247.1 481.5L1247.1 489.7zM1243.9 485.4L1251.2 481.3L1251.2 489.5zM1248.1 485.6L1255.3 481.5L1255.3 489.7zM1252.2 485.7L1259.4 481.6L1259.4 489.8zM1256.3 485L1263.5 481L1263.5 489.1zM1260.4 485.2L1267.6 481.1L1267.6 489.3zM1264.5 485.3L1271.7 481.2L1271.7 489.4zM1268.6 485L1275.8 480.9L1275.8 489.1zM1272.7 485.3L1279.9 481.2L1279.9 489.4zM1276.8 485L1284 480.9L1284 489.1zM1280.9 485L1288.1 480.9L1288.1 489.1zM1285 485.4L1292.3 481.3L1292.3 489.5zM1289.2 485.3L1296.4 481.2L1296.4 489.4zM1293.3 485.3L1300.5 481.2L1300.5 489.4zM1297.4 485.3L1304.6 481.2L1304.6 489.4zM1301.5 485L1308.7 481L1308.7 489.1zM1305.6 485.2L1312.8 481.1L1312.8 489.3zM1309.7 485.1L1316.9 481L1316.9 489.2zM1313.8 485.3L1321 481.2L1321 489.4zM1317.9 484.8L1325.1 480.7L1325.1 488.9zM1322 485.1L1329.2 481L1329.2 489.2zM1326.1 485L1333.3 480.9L1333.3 489.1zM1330.2 484.9L1337.5 480.8L1337.5 489zM1334.4 484.7L1341.6 480.6L1341.6 488.8zM1338.5 485L1345.7 480.9L1345.7 489.1zM1342.6 484.6L1349.8 480.5L1349.8 488.7zM1346.7 484.9L1353.9 480.8L1353.9 489zM1350.8 484.9L1358 480.8L1358 488.9zM1354.9 484.8L1362.1 480.7L1362.1 488.9zM1359 485.1L1366.2 481L1366.2 489.2zM1363.1 484.9L1370.3 480.8L1370.3 488.9zM1367.2 485L1374.4 480.9L1374.4 489.1zM1371.3 485.1L1378.6 481L1378.6 489.2zM1375.4 484.6L1382.7 480.5L1382.7 488.7zM1379.6 484.9L1386.8 480.9L1386.8 489zM1383.7 484.7L1390.9 480.6L1390.9 488.8zM1387.8 484.6L1395 480.5L1395 488.7zM1391.9 484.6L1399.1 480.6L1399.1 488.7zM1396 484.8L1403.2 480.7L1403.2 488.9zM1400.1 484.6L1407.3 480.5L1407.3 488.7zM1404.2 484.6L1411.4 480.5L1411.4 488.7zM1408.3 484.4L1415.5 480.3L1415.5 488.5zM1412.4 484.8L1419.6 480.7L1419.6 488.9zM1416.5 484.5L1423.8 480.4L1423.8 488.6zM1420.7 484.7L1427.9 480.6L1427.9 488.8zM1424.8 484.7L1432 480.6L1432 488.8zM1428.9 484.3L1436.1 480.2L1436.1 488.4zM1433 484.5L1440.2 480.4L1440.2 488.6zM1437.1 484.4L1444.3 480.3L1444.3 488.5zM1441.2 484.3L1448.4 480.2L1448.4 488.4zM1445.3 484.2L1452.5 480.1L1452.5 488.3zM1449.4 484.5L1456.6 480.4L1456.6 488.5zM1453.5 484.3L1460.7 480.2L1460.7 488.4zM1457.6 484.4L1464.9 480.3L1464.9 488.5zM1461.7 484.3L1469 480.3L1469 488.4zM1465.9 484.2L1473.1 480.1L1473.1 488.3zM1470 484.3L1477.2 480.3L1477.2 488.4zM1474.1 484.3L1481.3 480.2L1481.3 488.4zM1478.2 484.3L1485.4 480.2L1485.4 488.4zM1482.3 484L1489.5 479.9L1489.5 488.1zM1486.4 484.1L1493.6 480L1493.6 488.2zM1490.5 484L1497.7 479.9L1497.7 488.1zM1494.6 483.9L1501.8 479.8L1501.8 488zM1498.7 484.3L1505.9 480.2L1505.9 488.4zM1502.8 484.1L1510.1 480L1510.1 488.2zM1506.9 483.9L1514.2 479.8L1514.2 488zM1511.1 483.9L1518.3 479.8L1518.3 488zM1515.2 484.3L1522.4 480.2L1522.4 488.4zM1519.3 484.3L1526.5 480.2L1526.5 488.4zM1523.4 484.1L1530.6 480L1530.6 488.2zM1527.5 484.3L1534.7 480.2L1534.7 488.4zM1531.6 484.2L1538.8 480.1L1538.8 488.3zM1535.7 484.3L1542.9 480.2L1542.9 488.4zM1539.8 483.9L1547 479.8L1547 488zM1543.9 483.8L1551.1 479.7L1551.1 487.9zM1548 483.7L1555.3 479.6L1555.3 487.8zM1552.2 484.2L1559.4 480.1L1559.4 488.3zM1556.3 483.8L1563.5 479.7L1563.5 487.9zM1560.4 483.8L1567.6 479.7L1567.6 487.9zM1564.5 484.1L1571.7 480L1571.7 488.2zM1568.6 483.6L1575.8 479.5L1575.8 487.7zM1572.7 483.5L1579.9 479.4L1579.9 487.6zM1576.8 484L1584 479.9L1584 488.1zM1580.9 483.5L1588.1 479.4L1588.1 487.6zM1585 483.8L1592.2 479.8L1592.2 487.9zM1589.1 483.8L1596.4 479.7L1596.4 487.9zM1593.2 483.4L1600.5 479.3L1600.5 487.5zM1597.4 483.5L1604.6 479.4L1604.6 487.6zM1601.5 483.9L1608.7 479.8L1608.7 488zM1605.6 483.7L1612.8 479.6L1612.8 487.8zM1609.7 483.7L1616.9 479.6L1616.9 487.8zM1613.8 483.8L1621 479.7L1621 487.8zM1617.9 483.8L1625.1 479.7L1625.1 487.9zM1622 483.7L1629.2 479.6L1629.2 487.8zM1626.1 483.5L1633.3 479.4L1633.3 487.5zM1630.2 483.9L1637.4 479.8L1637.4 488zM1634.3 483.5L1641.6 479.4L1641.6 487.6zM1638.4 483.6L1645.7 479.5L1645.7 487.7zM1642.6 483.8L1649.8 479.7L1649.8 487.9zM1646.7 483.6L1653.9 479.5L1653.9 487.7zM1650.8 483.4L1658 479.3L1658 487.5zM1654.9 483.5L1662.1 479.4L1662.1 487.5zM1659 483.7L1666.2 479.6L1666.2 487.8zM1663.1 483.1L1670.3 479L1670.3 487.2zM1667.2 483.2L1674.4 479.1L1674.4 487.3zM1671.3 483.1L1678.5 479L1678.5 487.2zM1675.4 483.6L1682.6 479.5L1682.6 487.7zM1679.5 483.5L1686.8 479.4L1686.8 487.6z" fill="#000080"/>
<path d="M1003.3 469.2a3.4 3.4 0 1 0 6.8 0a3.4 3.4 0 1 0 -6.8 0zM1007.4 465.5a3.4 3.4 0 1 0 6.8 0a3.4 3.4 0 1 0 -6.8 0zM1011.5 462.6a3.4 3.4 0 1 0 6.8 0a3.4 3.4 0 1 0 -6.8 0zM1015.6 459.6a3.4 3.4 0 1 0 6.8 0a3.4 3.4 0 1 0 -6.8 0zM1019.7 456.4a3.4 3.4 0 1 0 6.8 0a3.4 3.4 0 1 0 -6.8 0zM1023.8 453.5a3.4 3.4 0 1 0 6.8 0a3.4 3.4 0 1 0 -6.8 0zM1027.9 451a3.4 3.4 0 1 0 6.8 0a3.4 3.4 0 1 0 -6.8 0zM1032 448.9a3.4 3.4 0 1 0 6.8 0a3.4 3.4 0 1 0 -6.8 0zM1036.1 446.9a3.4 3.4 0 1 0 6.8 0a3.4 3.4 0 1 0 -6.8 0zM1040.3 444.6a3.4 3.4 0 1 0 6.8 0a3.4 3.4 0 1 0 -6.8 0zM1044.4 443.2a3.4 3.4 0 1 0 6.8 0a3.4 3.4 0 1 0 -6.8 0zM1048.5 441.5a3.4 3.4 0 1 0 6.8 0a3.4 3.4 0 1 0 -6.8 0zM1052.6 440.2a3.4 3.4 0 1 0 6.8 0a3.4 3.4 0 1 0 -6.8 0zM1056.7 438.8a3.4 3.4 0 1 0 6.8 0a3.4 3.4 0 1 0 -6.8 0zM1060.8 437.1a3.4 3.4 0 1 0 6.8 0a3.4 3.4 0 1 0 -6.8 0zM1064.9 435.9a3.4 3.4 0 1 0 6.8 0a3.4 3.4 0 1 0 -6.8 0zM1069 434.8a3.4 3.4 0 1 0 6.8 0a3.4 3.4 0 1 0 -6.8 0zM1073.1 433.2a3.4 3.4 0 1 0 6.8 0a3.4 3.4 0 1 0 -6.8 0zM1077.2 432.2a3.4 3.4 0 1 0 6.8 0a3.4 3.4 0 1 0 -6.8 0zM1081.4 431a3.4 3.4 0 1 0 6.8 0a3.4 3.4 0 1 0 -6.8 0zM1085.5 430.2a3.4 3.4 0 1 0 6.8 0a3.4 3.4 0 1 0 -6.8 0zM1089.6 428.7a3.4 3.4 0 1 0 6.8 0a3.4 3.4 0 1 0 -6.8 0zM1093.7 428.2a3.4 3.4 0 1 0 6.8 0a3.4 3.4 0 1 0 -6.8 0zM1097.8 426.8a3.4 3.4 0 1 0 6.8 0a3.4 3.4 0 1 0 -6.8 0zM1101.9 426.1a3.4 3.4 0 1 0 6.8 0a3.4 3.4 0 1 0 -6.8 0zM1106 425.2a3.4 3.4 0 1 0 6.8 0a3.4 3.4 0 1 0 -6.8 0zM1110.1 424.1a3.4 3.4 0 1 0 6.8 0a3.4 3.4 0 1 0 -6.8 0zM1114.2 423a3.4 3.4 0 1 0 6.8 0a3.4 3.4 0 1 0 -6.8 0zM1118.3 422.4a3.4 3.4 0 1 0 6.8 0a3.4 3.4 0 1 0 -6.8 0zM1122.4 421.6a3.4 3.4 0 1 0 6.8 0a3.4 3.4 0 1 0 -6.8 0zM1126.6 420.5a3.4 3.4 0 1 0 6.8 0a3.4 3.4 0 1 0 -6.8 0zM1130.7 419.7a3.4 3.4 0 1 0 6.8 0a3.4 3.4 0 1 0 -6.8 0zM1134.8 418.9a3.4 3.4 0 1 0 6.8 0a3.4 3.4 0 1 0 -6.8 0zM1138.9 418a3.4 3.4 0 1 0 6.8 0a3.4 3.4 0 1 0 -6.8 0zM1143 417.1a3.4 3.4 0 1 0 6.8 0a3.4 3.4 0 1 0 -6.8 0zM1147.1 416.1a3.4 3.4 0 1 0 6.8 0a3.4 3.4 0 1 0 -6.8 0zM1151.2 415.1a3.4 3.4 0 1 0 6.8 0a3.4 3.4 0 1 0 -6.8 0zM1155.3 414.2a3.4 3.4 0 1 0 6.8 0a3.4 3.4 0 1 0 -6.8 0zM1159.4 413.1a3.4 3.4 0 1 0 6.8 0a3.4 3.4 0 1 0 -6.8 0zM1163.5 412.4a3.4 3.4 0 1 0 6.8 0a3.4 3.4 0 1 0 -6.8 0zM1167.6 411.4a3.4 3.4 0 1 0 6.8 0a3.4 3.4 0 1 0 -6.8 0zM1171.8 410.6a3.4 3.4 0 1 0 6.8 0a3.4 3.4 0 1 0 -6.8 0zM1175.9 409.7a3.4 3.4 0 1 0 6.8 0a3.4 3.4 0 1 0 -6.8 0zM1180 409a3.4 3.4 0 1 0 6.8 0a3.4 3.4 0 1 0 -6.8 0zM1184.1 408.1a3.4 3.4 0 1 0 6.8 0a3.4 3.4 0 1 0 -6.8 0zM1188.2 407.4a3.4 3.4 0 1 0 6.8 0a3.4 3.4 0 1 0 -6.8 0zM1192.3 406.1a3.4 3.4 0 1 0 6.8 0a3.4 3.4 0 1 0 -6.8 0zM1196.4 405.4a3.4 3.4 0 1 0 6.8 0a3.4 3.4 0 1 0 -6.8 0zM1200.5 404.7a3.4 3.4 0 1 0 6.8 0a3.4 3.4 0 1 0 -6.8 0zM1204.6 403.8a3.4 3.4 0 1 0 6.8 0a3.4 3.4 0 1 0 -6.8 0zM1208.7 403a3.4 3.4 0 1 0 6.8 0a3.4 3.4 0 1 0 -6.8 0zM1212.9 402.9a3.4 3.4 0 1 0 6.8 0a3.4 3.4 0 1 0 -6.8 0zM1217 402.1a3.4 3.4 0 1 0 6.8 0a3.4 3.4 0 1 0 -6.8 0zM1221.1 401.8a3.4 3.4 0 1 0 6.8 0a3.4 3.4 0 1 0 -6.8 0zM1225.2 401.3a3.4 3.4 0 1 0 6.8 0a3.4 3.4 0 1 0 -6.8 0zM1229.3 400.6a3.4 3.4 0 1 0 6.8 0a3.4 3.4 0 1 0 -6.8 0zM1233.4 400.3a3.4 3.4 0 1 0 6.8 0a3.4 3.4 0 1 0 -6.8 0zM1237.5 399.8a3.4 3.4 0 1 0 6.8 0a3.4 3.4 0 1 0 -6.8 0zM1241.6 399.2a3.4 3.4 0 1 0 6.8 0a3.4 3.4 0 1 0 -6.8 0zM1245.7 398.7a3.4 3.4 0 1 0 6.8 0a3.4 3.4 0 1 0 -6.8 0zM1249.8 398.7a3.4 3.4 0 1 0 6.8 0a3.4 3.4 0 1 0 -6.8 0zM1253.9 398a3.4 3.4 0 1 0 6.8 0a3.4 3.4 0 1 0 -6.8 0zM1258.1 397.7a3.4 3.4 0 1 0 6.8 0a3.4 3.4 0 1 0 -6.8 0zM1262.2 397.4a3.4 3.4 0 1 0 6.8 0a3.4 3.4 0 1 0 -6.8 0zM1266.3 397.1a3.4 3.4 0 1 0 6.8 0a3.4 3.4 0 1 0 -6.8 0zM1270.4 396.7a3.4 3.4 0 1 0 6.8 0a3.4 3.4 0 1 0 -6.8 0zM1274.5 396.5a3.4 3.4 0 1 0 6.8 0a3.4 3.4 0 1 0 -6.8 0zM1278.6 396.1a3.4 3.4 0 1 0 6.8 0a3.4 3.4 0 1 0 -6.8 0zM1282.7 395.8a3.4 3.4 0 1 0 6.8 0a3.4 3.4 0 1 0 -6.8 0zM1286.8 395.1a3.4 3.4 0 1 0 6.8 0a3.4 3.4 0 1 0 -6.8 0zM1290.9 395a3.4 3.4 0 1 0 6.8 0a3.4 3.4 0 1 0 -6.8 0zM1295 394.7a3.4 3.4 0 1 0 6.8 0a3.4 3.4 0 1 0 -6.8 0zM1299.1 394.4a3.4 3.4 0 1 0 6.8 0a3.4 3.4 0 1 0 -6.8 0zM1303.3 393.7a3.4 3.4 0 1 0 6.8 0a3.4 3.4 0 1 0 -6.8 0zM1307.4 393.3a3.4 3.4 0 1 0 6.8 0a3.4 3.4 0 1 0 -6.8 0zM1311.5 393.2a3.4 3.4 0 1 0 6.8 0a3.4 3.4 0 1 0 -6.8 0zM1315.6 393.2a3.4 3.4 0 1 0 6.8 0a3.4 3.4 0 1 0 -6.8 0zM1319.7 393a3.4 3.4 0 1 0 6.8 0a3.4 3.4 0 1 0 -6.8 0zM1323.8 392.7a3.4 3.4 0 1 0 6.8 0a3.4 3.4 0 1 0 -6.8 0zM1327.9 392.4a3.4 3.4 0 1 0 6.8 0a3.4 3.4 0 1 0 -6.8 0zM1332 392.3a3.4 3.4 0 1 0 6.8 0a3.4 3.4 0 1 0 -6.8 0zM1336.1 392a3.4 3.4 0 1 0 6.8 0a3.4 3.4 0 1 0 -6.8 0zM1340.2 391.8a3.4 3.4 0 1 0 6.8 0a3.4 3.4 0 1 0 -6.8 0zM1344.4 391.3a3.4 3.4 0 1 0 6.8 0a3.4 3.4 0 1 0 -6.8 0zM1348.5 391.1a3.4 3.4 0 1 0 6.8 0a3.4 3.4 0 1 0 -6.8 0zM1352.6 391.1a3.4 3.4 0 1 0 6.8 0a3.4 3.4 0 1 0 -6.8 0zM1356.7 391.1a3.4 3.4 0 1 0 6.8 0a3.4 3.4 0 1 0 -6.8 0zM1360.8 390.5a3.4 3.4 0 1 0 6.8 0a3.4 3.4 0 1 0 -6.8 0zM1364.9 390.6a3.4 3.4 0 1 0 6.8 0a3.4 3.4 0 1 0 -6.8 0zM1369 390.4a3.4 3.4 0 1 0 6.8 0a3.4 3.4 0 1 0 -6.8 0zM1373.1 390.4a3.4 3.4 0 1 0 6.8 0a3.4 3.4 0 1 0 -6.8 0zM1377.2 390a3.4 3.4 0 1 0 6.8 0a3.4 3.4 0 1 0 -6.8 0zM1381.3 389.7a3.4 3.4 0 1 0 6.8 0a3.4 3.4 0 1 0 -6.8 0zM1385.4 389.4a3.4 3.4 0 1 0 6.8 0a3.4 3.4 0 1 0 -6.8 0zM1389.6 389.3a3.4 3.4 0 1 0 6.8 0a3.4 3.4 0 1 0 -6.8 0zM1393.7 388.9a3.4 3.4 0 1 0 6.8 0a3.4 3.4 0 1 0 -6.8 0zM1397.8 388.9a3.4 3.4 0 1 0 6.8 0a3.4 3.4 0 1 0 -6.8 0zM1401.9 388.5a3.4 3.4 0 1 0 6.8 0a3.4 3.4 0 1 0 -6.8 0zM1406 388.3a3.4 3.4 0 1 0 6.8 0a3.4 3.4 0 1 0 -6.8 0zM1410.1 387.9a3.4 3.4 0 1 0 6.8 0a3.4 3.4 0 1 0 -6.8 0zM1414.2 387.8a3.4 3.4 0 1 0 6.8 0a3.4 3.4 0 1 0 -6.8 0zM1418.3 387.5a3.4 3.4 0 1 0 6.8 0a3.4 3.4 0 1 0 -6.8 0zM1422.4 387.1a3.4 3.4 0 1 0 6.8 0a3.4 3.4 0 1 0 -6.8 0zM1426.5 386.9a3.4 3.4 0 1 0 6.8 0a3.4 3.4 0 1 0 -6.8 0zM1430.7 386.4a3.4 3.4 0 1 0 6.8 0a3.4 3.4 0 1 0 -6.8 0zM1434.8 386.2a3.4 3.4 0 1 0 6.8 0a3.4 3.4 0 1 0 -6.8 0zM1438.9 385.8a3.4 3.4 0 1 0 6.8 0a3.4 3.4 0 1 0 -6.8 0zM1443 385.6a3.4 3.4 0 1 0 6.8 0a3.4 3.4 0 1 0 -6.8 0zM1447.1 385.3a3.4 3.4 0 1 0 6.8 0a3.4 3.4 0 1 0 -6.8 0zM1451.2 385.1a3.4 3.4 0 1 0 6.8 0a3.4 3.4 0 1 0 -6.8 0zM1455.3 385.1a3.4 3.4 0 1 0 6.8 0a3.4 3.4 0 1 0 -6.8 0zM1459.4 385a3.4 3.4 0 1 0 6.8 0a3.4 3.4 0 1 0 -6.8 0zM1463.5 384.4a3.4 3.4 0 1 0 6.8 0a3.4 3.4 0 1 0 -6.8 0zM1467.6 384.7a3.4 3.4 0 1 0 6.8 0a3.4 3.4 0 1 0 -6.8 0zM1471.7 384.2a3.4 3.4 0 1 0 6.8 0a3.4 3.4 0 1 0 -6.8 0zM1475.9 384a3.4 3.4 0 1 0 6.8 0a3.4 3.4 0 1 0 -6.8 0zM1480 384.2a3.4 3.4 0 1 0 6.8 0a3.4 3.4 0 1 0 -6.8 0zM1484.1 383.6a3.4 3.4 0 1 0 6.8 0a3.4 3.4 0 1 0 -6.8 0zM1488.2 383.4a3.4 3.4 0 1 0 6.8 0a3.4 3.4 0 1 0 -6.8 0zM1492.3 383.4a3.4 3.4 0 1 0 6.8 0a3.4 3.4 0 1 0 -6.8 0zM1496.4 383.2a3.4 3.4 0 1 0 6.8 0a3.4 3.4 0 1 0 -6.8 0zM1500.5 383a3.4 3.4 0 1 0 6.8 0a3.4 3.4 0 1 0 -6.8 0zM1504.6 383.2a3.4 3.4 0 1 0 6.8 0a3.4 3.4 0 1 0 -6.8 0zM1508.7 382.8a3.4 3.4 0 1 0 6.8 0a3.4 3.4 0 1 0 -6.8 0zM1512.8 382.7a3.4 3.4 0 1 0 6.8 0a3.4 3.4 0 1 0 -6.8 0zM1516.9 382.3a3.4 3.4 0 1 0 6.8 0a3.4 3.4 0 1 0 -6.8 0zM1521.1 382a3.4 3.4 0 1 0 6.8 0a3.4 3.4 0 1 0 -6.8 0zM1525.2 381.7a3.4 3.4 0 1 0 6.8 0a3.4 3.4 0 1 0 -6.8 0zM1529.3 381.6a3.4 3.4 0 1 0 6.8 0a3.4 3.4 0 1 0 -6.8 0zM1533.4 381.2a3.4 3.4 0 1 0 6.8 0a3.4 3.4 0 1 0 -6.8 0zM1537.5 381a3.4 3.4 0 1 0 6.8 0a3.4 3.4 0 1 0 -6.8 0zM1541.6 380.7a3.4 3.4 0 1 0 6.8 0a3.4 3.4 0 1 0 -6.8 0zM1545.7 380.7a3.4 3.4 0 1 0 6.8 0a3.4 3.4 0 1 0 -6.8 0zM1549.8 380.6a3.4 3.4 0 1 0 6.8 0a3.4 3.4 0 1 0 -6.8 0zM1553.9 380.4a3.4 3.4 0 1 0 6.8 0a3.4 3.4 0 1 0 -6.8 0zM1558 380.1a3.4 3.4 0 1 0 6.8 0a3.4 3.4 0 1 0 -6.8 0zM1562.2 380.1a3.4 3.4 0 1 0 6.8 0a3.4 3.4 0 1 0 -6.8 0zM1566.3 379.6a3.4 3.4 0 1 0 6.8 0a3.4 3.4 0 1 0 -6.8 0zM1570.4 379.6a3.4 3.4 0 1 0 6.8 0a3.4 3.4 0 1 0 -6.8 0zM1574.5 379.4a3.4 3.4 0 1 0 6.8 0a3.4 3.4 0 1 0 -6.8 0zM1578.6 379.2a3.4 3.4 0 1 0 6.8 0a3.4 3.4 0 1 0 -6.8 0zM1582.7 379.1a3.4 3.4 0 1 0 6.8 0a3.4 3.4 0 1 0 -6.8 0zM1586.8 379.1a3.4 3.4 0 1 0 6.8 0a3.4 3.4 0 1 0 -6.8 0zM1590.9 379.2a3.4 3.4 0 1 0 6.8 0a3.4 3.4 0 1 0 -6.8 0zM1595 378.7a3.4 3.4 0 1 0 6.8 0a3.4 3.4 0 1 0 -6.8 0zM1599.1 378.6a3.4 3.4 0 1 0 6.8 0a3.4 3.4 0 1 0 -6.8 0zM1603.2 378.6a3.4 3.4 0 1 0 6.8 0a3.4 3.4 0 1 0 -6.8 0zM1607.4 378.5a3.4 3.4 0 1 0 6.8 0a3.4 3.4 0 1 0 -6.8 0zM1611.5 378.3a3.4 3.4 0 1 0 6.8 0a3.4 3.4 0 1 0 -6.8 0zM1615.6 378.5a3.4 3.4 0 1 0 6.8 0a3.4 3.4 0 1 0 -6.8 0zM1619.7 378a3.4 3.4 0 1 0 6.8 0a3.4 3.4 0 1 0 -6.8 0zM1623.8 378.2a3.4 3.4 0 1 0 6.8 0a3.4 3.4 0 1 0 -6.8 0zM1627.9 378.2a3.4 3.4 0 1 0 6.8 0a3.4 3.4 0 1 0 -6.8 0zM1632 378.1a3.4 3.4 0 1 0 6.8 0a3.4 3.4 0 1 0 -6.8 0zM1636.1 377.7a3.4 3.4 0 1 0 6.8 0a3.4 3.4 0 1 0 -6.8 0zM1640.2 377.9a3.4 3.4 0 1 0 6.8 0a3.4 3.4 0 1 0 -6.8 0zM1644.3 377.6a3.4 3.4 0 1 0 6.8 0a3.4 3.4 0 1 0 -6.8 0zM1648.4 377.4a3.4 3.4 0 1 0 6.8 0a3.4 3.4 0 1 0 -6.8 0zM1652.6 377.6a3.4 3.4 0 1 0 6.8 0a3.4 3.4 0 1 0 -6.8 0zM1656.7 377.7a3.4 3.4 0 1 0 6.8 0a3.4 3.4 0 1 0 -6.8 0zM1660.8 377.7a3.4 3.4 0 1 0 6.8 0a3.4 3.4 0 1 0 -6.8 0zM1664.9 377.7a3.4 3.4 0 1 0 6.8 0a3.4 3.4 0 1 0 -6.8 0zM1669 377.6a3.4 3.4 0 1 0 6.8 0a3.4 3.4 0 1 0 -6.8 0zM1673.1 377.8a3.4 3.4 0 1 0 6.8 0a3.4 3.4 0 1 0 -6.8 0zM1677.2 377.8a3.4 3.4 0 1 0 6.8 0a3.4 3.4 0 1 0 -6.8 0zM1681.3 378.1a3.4 3.4 0 1 0 6.8 0a3.4 3.4 0 1 0 -6.8 0z" fill="#ff0000"/>
<path d="M1006.7 352.1L1010.7 356.1L1006.7 360.1L1002.7 356.1zM1010.8 337.6L1014.8 341.6L1010.8 345.6L1006.8 341.6zM1014.9 326.7L1018.9 330.7L1014.9 334.7L1010.9 330.7zM1019 317.3L1023 321.3L1019 325.3L1015 321.3zM1023.1 308.6L1027.1 312.6L1023.1 316.6L1019.1 312.6zM1027.2 301.5L1031.2 305.5L1027.2 309.5L1023.2 305.5zM1031.3 295.1L1035.3 299.1L1031.3 303.1L1027.3 299.1zM1035.4 289L1039.4 293L1035.4 297L1031.4 293zM1039.5 283.6L1043.5 287.6L1039.5 291.6L1035.5 287.6zM1043.7 278.8L1047.7 282.8L1043.7 286.8L1039.7 282.8zM1047.8 274.9L1051.8 278.9L1047.8 282.9L1043.8 278.9zM1051.9 271.5L1055.9 275.5L1051.9 279.5L1047.9 275.5zM1056 268.1L1060 272.1L1056 276.1L1052 272.1zM1060.1 265.7L1064.1 269.7L1060.1 273.7L1056.1 269.7zM1064.2 263.8L1068.2 267.8L1064.2 271.8L1060.2 267.8zM1068.3 261.9L1072.3 265.9L1068.3 269.9L1064.3 265.9zM1072.4 259.6L1076.4 263.6L1072.4 267.6L1068.4 263.6zM1076.5 258.3L1080.5 262.3L1076.5 266.3L1072.5 262.3zM1080.6 256.3L1084.6 260.3L1080.6 264.3L1076.6 260.3zM1084.8 254.7L1088.8 258.7L1084.8 262.7L1080.8 258.7zM1088.9 254L1092.9 258L1088.9 262L1084.9 258zM1093 252.6L1097 256.6L1093 260.6L1089 256.6zM1097.1 251.3L1101.1 255.3L1097.1 259.3L1093.1 255.3zM1101.2 250.3L1105.2 254.3L1101.2 258.3L1097.2 254.3zM1105.3 249.8L1109.3 253.8L1105.3 257.8L1101.3 253.8zM1109.4 249.1L1113.4 253.1L1109.4 257.1L1105.4 253.1zM1113.5 248.4L1117.5 252.4L1113.5 256.4L1109.5 252.4zM1117.6 247.5L1121.6 251.5L1117.6 255.5L1113.6 251.5zM1121.7 247.3L1125.7 251.3L1121.7 255.3L1117.7 251.3zM1125.8 246.5L1129.8 250.5L1125.8 254.5L1121.8 250.5zM1130 246.4L1134 250.4L1130 254.4L1126 250.4zM1134.1 245.8L1138.1 249.8L1134.1 253.8L1130.1 249.8zM1138.2 245.2L1142.2 249.2L1138.2 253.2L1134.2 249.2zM1142.3 245.3L1146.3 249.3L1142.3 253.3L1138.3 249.3zM1146.4 244.8L1150.4 248.8L1146.4 252.8L1142.4 248.8zM1150.5 244.8L1154.5 248.8L1150.5 252.8L1146.5 248.8zM1154.6 244.4L1158.6 248.4L1154.6 252.4L1150.6 248.4zM1158.7 244.3L1162.7 248.3L1158.7 252.3L1154.7 248.3zM1162.8 244.3L1166.8 248.3L1162.8 252.3L1158.8 248.3zM1166.9 243.8L1170.9 247.8L1166.9 251.8L1162.9 247.8zM1171 243.8L1175 247.8L1171 251.8L1167 247.8zM1175.2 243.9L1179.2 247.9L1175.2 251.9L1171.2 247.9zM1179.3 243.8L1183.3 247.8L1179.3 251.8L1175.3 247.8zM1183.4 243.5L1187.4 247.5L1183.4 251.5L1179.4 247.5zM1187.5 243.5L1191.5 247.5L1187.5 251.5L1183.5 247.5zM1191.6 243.5L1195.6 247.5L1191.6 251.5L1187.6 247.5zM1195.7 243.5L1199.7 247.5L1195.7 251.5L1191.7 247.5zM1199.8 243.3L1203.8 247.3L1199.8 251.3L1195.8 247.3zM1203.9 243.2L1207.9 247.2L1203.9 251.2L1199.9 247.2zM1208 242.9L1212 246.9L1208 250.9L1204 246.9zM1212.1 243.3L1216.1 247.3L1212.1 251.3L1208.1 247.3zM1216.3 242.9L1220.3 246.9L1216.3 250.9L1212.3 246.9zM1220.4 242.9L1224.4 246.9L1220.4 250.9L1216.4 246.9zM1224.5 243.3L1228.5 247.3L1224.5 251.3L1220.5 247.3zM1228.6 242.9L1232.6 246.9L1228.6 250.9L1224.6 246.9zM1232.7 243L1236.7 247L1232.7 251L1228.7 247zM1236.8 242.9L1240.8 246.9L1236.8 250.9L1232.8 246.9zM1240.9 243.2L1244.9 247.2L1240.9 251.2L1236.9 247.2zM1245 243.2L1249 247.2L1245 251.2L1241 247.2zM1249.1 243.2L1253.1 247.2L1249.1 251.2L1245.1 247.2zM1253.2 242.9L1257.2 246.9L1253.2 250.9L1249.2 246.9zM1257.3 243.1L1261.3 247.1L1257.3 251.1L1253.3 247.1zM1261.5 243.2L1265.5 247.2L1261.5 251.2L1257.5 247.2zM1265.6 243.2L1269.6 247.2L1265.6 251.2L1261.6 247.2zM1269.7 243.3L1273.7 247.3L1269.7 251.3L1265.7 247.3zM1273.8 243.4L1277.8 247.4L1273.8 251.4L1269.8 247.4zM1277.9 243.4L1281.9 247.4L1277.9 251.4L1273.9 247.4zM1282 243L1286 247L1282 251L1278 247zM1286.1 243.3L1290.1 247.3L1286.1 251.3L1282.1 247.3zM1290.2 243L1294.2 247L1290.2 251L1286.2 247zM1294.3 243.4L1298.3 247.4L1294.3 251.4L1290.3 247.4zM1298.4 243.4L1302.4 247.4L1298.4 251.4L1294.4 247.4zM1302.5 243.3L1306.5 247.3L1302.5 251.3L1298.5 247.3zM1306.7 243.4L1310.7 247.4L1306.7 251.4L1302.7 247.4zM1310.8 243.3L1314.8 247.3L1310.8 251.3L1306.8 247.3zM1314.9 243.1L1318.9 247.1L1314.9 251.1L1310.9 247.1zM1319 243.1L1323 247.1L1319 251.1L1315 247.1zM1323.1 243.2L1327.1 247.2L1323.1 251.2L1319.1 247.2zM1327.2 243.3L1331.2 247.3L1327.2 251.3L1323.2 247.3zM1331.3 243.1L1335.3 247.1L1331.3 251.1L1327.3 247.1zM1335.4 243.1L1339.4 247.1L1335.4 251.1L1331.4 247.1zM1339.5 243.3L1343.5 247.3L1339.5 251.3L1335.5 247.3zM1343.6 243.2L1347.6 247.2L1343.6 251.2L1339.6 247.2zM1347.8 243.6L1351.8 247.6L1347.8 251.6L1343.8 247.6zM1351.9 243.2L1355.9 247.2L1351.9 251.2L1347.9 247.2zM1356 243.4L1360 247.4L1356 251.4L1352 247.4zM1360.1 243.2L1364.1 247.2L1360.1 251.2L1356.1 247.2zM1364.2 243.3L1368.2 247.3L1364.2 251.3L1360.2 247.3zM1368.3 243.5L1372.3 247.5L1368.3 251.5L1364.3 247.5zM1372.4 243.6L1376.4 247.6L1372.4 251.6L1368.4 247.6zM1376.5 243.1L1380.5 247.1L1376.5 251.1L1372.5 247.1zM1380.6 243.6L1384.6 247.6L1380.6 251.6L1376.6 247.6zM1384.7 243.4L1388.7 247.4L1384.7 251.4L1380.7 247.4zM1388.8 243.4L1392.8 247.4L1388.8 251.4L1384.8 247.4zM1393 243.5L1397 247.5L1393 251.5L1389 247.5zM1397.1 243.2L1401.1 247.2L1397.1 251.2L1393.1 247.2zM1401.2 243.1L1405.2 247.1L1401.2 251.1L1397.2 247.1zM1405.3 243.5L1409.3 247.5L1405.3 251.5L1401.3 247.5zM1409.4 243.3L1413.4 247.3L1409.4 251.3L1405.4 247.3zM1413.5 243.5L1417.5 247.5L1413.5 251.5L1409.5 247.5zM1417.6 243.3L1421.6 247.3L1417.6 251.3L1413.6 247.3zM1421.7 243.4L1425.7 247.4L1421.7 251.4L1417.7 247.4zM1425.8 243.5L1429.8 247.5L1425.8 251.5L1421.8 247.5zM1429.9 243.5L1433.9 247.5L1429.9 251.5L1425.9 247.5zM1434.1 243.5L1438.1 247.5L1434.1 251.5L1430.1 247.5zM1438.2 243.2L1442.2 247.2L1438.2 251.2L1434.2 247.2zM1442.3 243.4L1446.3 247.4L1442.3 251.4L1438.3 247.4zM1446.4 243.5L1450.4 247.5L1446.4 251.5L1442.4 247.5zM1450.5 243.2L1454.5 247.2L1450.5 251.2L1446.5 247.2zM1454.6 243.1L1458.6 247.1L1454.6 251.1L1450.6 247.1zM1458.7 243.4L1462.7 247.4L1458.7 251.4L1454.7 247.4zM1462.8 243.5L1466.8 247.5L1462.8 251.5L1458.8 247.5zM1466.9 243.5L1470.9 247.5L1466.9 251.5L1462.9 247.5zM1471 243.6L1475 247.6L1471 251.6L1467 247.6zM1475.1 243.4L1479.1 247.4L1475.1 251.4L1471.1 247.4zM1479.3 243.6L1483.3 247.6L1479.3 251.6L1475.3 247.6zM1483.4 243.5L1487.4 247.5L1483.4 251.5L1479.4 247.5zM1487.5 243.5L1491.5 247.5L1487.5 251.5L1483.5 247.5zM1491.6 243.3L1495.6 247.3L1491.6 251.3L1487.6 247.3zM1495.7 243.2L1499.7 247.2L1495.7 251.2L1491.7 247.2zM1499.8 243.2L1503.8 247.2L1499.8 251.2L1495.8 247.2zM1503.9 243.4L1507.9 247.4L1503.9 251.4L1499.9 247.4zM1508 243.4L1512 247.4L1508 251.4L1504 247.4zM1512.1 243.4L1516.1 247.4L1512.1 251.4L1508.1 247.4zM1516.2 243.4L1520.2 247.4L1516.2 251.4L1512.2 247.4zM1520.3 243.4L1524.3 247.4L1520.3 251.4L1516.3 247.4zM1524.5 243.6L1528.5 247.6L1524.5 251.6L1520.5 247.6zM1528.6 243.5L1532.6 247.5L1528.6 251.5L1524.6 247.5zM1532.7 243.1L1536.7 247.1L1532.7 251.1L1528.7 247.1zM1536.8 243.6L1540.8 247.6L1536.8 251.6L1532.8 247.6zM1540.9 243.4L1544.9 247.4L1540.9 251.4L1536.9 247.4zM1545 243.3L1549 247.3L1545 251.3L1541 247.3zM1549.1 243.2L1553.1 247.2L1549.1 251.2L1545.1 247.2zM1553.2 243.5L1557.2 247.5L1553.2 251.5L1549.2 247.5zM1557.3 243.4L1561.3 247.4L1557.3 251.4L1553.3 247.4zM1561.4 243.4L1565.4 247.4L1561.4 251.4L1557.4 247.4zM1565.6 243.3L1569.6 247.3L1565.6 251.3L1561.6 247.3zM1569.7 243.2L1573.7 247.2L1569.7 251.2L1565.7 247.2zM1573.8 242.9L1577.8 246.9L1573.8 250.9L1569.8 246.9zM1577.9 242.9L1581.9 246.9L1577.9 250.9L1573.9 246.9zM1582 242.9L1586 246.9L1582 250.9L1578 246.9zM1586.1 243.3L1590.1 247.3L1586.1 251.3L1582.1 247.3zM1590.2 243.2L1594.2 247.2L1590.2 251.2L1586.2 247.2zM1594.3 242.9L1598.3 246.9L1594.3 250.9L1590.3 246.9zM1598.4 242.7L1602.4 246.7L1598.4 250.7L1594.4 246.7zM1602.5 242.9L1606.5 246.9L1602.5 250.9L1598.5 246.9zM1606.6 242.8L1610.6 246.8L1606.6 250.8L1602.6 246.8zM1610.8 243.1L1614.8 247.1L1610.8 251.1L1606.8 247.1zM1614.9 242.8L1618.9 246.8L1614.9 250.8L1610.9 246.8zM1619 242.5L1623 246.5L1619 250.5L1615 246.5zM1623.1 242.6L1627.1 246.6L1623.1 250.6L1619.1 246.6zM1627.2 242.6L1631.2 246.6L1627.2 250.6L1623.2 246.6zM1631.3 242.5L1635.3 246.5L1631.3 250.5L1627.3 246.5zM1635.4 242.9L1639.4 246.9L1635.4 250.9L1631.4 246.9zM1639.5 243L1643.5 247L1639.5 251L1635.5 247zM1643.6 243L1647.6 247L1643.6 251L1639.6 247zM1647.7 242.8L1651.7 246.8L1647.7 250.8L1643.7 246.8zM1651.8 242.8L1655.8 246.8L1651.8 250.8L1647.8 246.8zM1656 242.7L1660 246.7L1656 250.7L1652 246.7zM1660.1 242.8L1664.1 246.8L1660.1 250.8L1656.1 246.8zM1664.2 242.9L1668.2 246.9L1664.2 250.9L1660.2 246.9zM1668.3 242.8L1672.3 246.8L1668.3 250.8L1664.3 246.8zM1672.4 243L1676.4 247L1672.4 251L1668.4 247zM1676.5 243L1680.5 247L1676.5 251L1672.5 247zM1680.6 243.2L1684.6 247.2L1680.6 251.2L1676.6 247.2zM1684.7 242.9L1688.7 246.9L1684.7 250.9L1680.7 246.9z" fill="#007f00"/>
<path d="M1004.8 213.1L1008.4 206.6L1001.1 206.6zM1006.8 210.5L1010.5 204L1003.1 204zM1008.9 212L1012.5 205.5L1005.2 205.5zM1010.9 214.2L1014.6 207.7L1007.2 207.7zM1013 215.7L1016.6 209.2L1009.3 209.2zM1015 215.9L1018.7 209.5L1011.4 209.5zM1017.1 214.2L1020.8 207.7L1013.4 207.7zM1019.1 213.8L1022.8 207.3L1015.5 207.3zM1021.2 216L1024.9 209.6L1017.5 209.6zM1023.2 216.1L1026.9 209.6L1019.6 209.6zM1025.3 213.3L1029 206.9L1021.6 206.9zM1027.4 212.3L1031 205.8L1023.7 205.8zM1029.4 212.3L1033.1 205.8L1025.7 205.8zM1031.5 212.1L1035.1 205.6L1027.8 205.6zM1033.5 209.7L1037.2 203.2L1029.8 203.2zM1035.6 211.2L1039.3 204.7L1031.9 204.7zM1037.6 209L1041.3 202.6L1034 202.6zM1039.7 207.4L1043.4 201L1036 201zM1041.7 204.4L1045.4 197.9L1038.1 197.9zM1043.8 204.8L1047.5 198.3L1040.1 198.3zM1045.8 203.1L1049.5 196.6L1042.2 196.6zM1047.9 204L1051.6 197.6L1044.2 197.6zM1050 204.3L1053.6 197.8L1046.3 197.8zM1052 203.5L1055.7 197.1L1048.3 197.1zM1054.1 199.9L1057.7 193.4L1050.4 193.4zM1056.1 200.2L1059.8 193.7L1052.4 193.7zM1058.2 201.1L1061.9 194.7L1054.5 194.7zM1060.2 201.6L1063.9 195.1L1056.6 195.1zM1062.3 198.9L1066 192.4L1058.6 192.4zM1064.3 197.5L1068 191L1060.7 191zM1066.4 197.8L1070.1 191.3L1062.7 191.3zM1068.5 197.8L1072.1 191.3L1064.8 191.3zM1070.5 195.4L1074.2 188.9L1066.8 188.9zM1072.6 193.5L1076.2 187L1068.9 187zM1074.6 195.6L1078.3 189.1L1070.9 189.1zM1076.7 195.6L1080.3 189.1L1073 189.1zM1078.7 193.6L1082.4 187.1L1075 187.1zM1080.8 192.4L1084.5 185.9L1077.1 185.9zM1082.8 190.5L1086.5 184.1L1079.2 184.1zM1084.9 191.7L1088.6 185.3L1081.2 185.3zM1086.9 188.5L1090.6 182L1083.3 182zM1089 187.9L1092.7 181.4L1085.3 181.4zM1091.1 188.1L1094.7 181.6L1087.4 181.6zM1093.1 188.8L1096.8 182.3L1089.4 182.3zM1095.2 185.2L1098.8 178.7L1091.5 178.7zM1097.2 187.5L1100.9 181L1093.5 181zM1099.3 185L1102.9 178.5L1095.6 178.5zM1101.3 187L1105 180.6L1097.7 180.6zM1103.4 186.7L1107.1 180.2L1099.7 180.2zM1105.4 184L1109.1 177.5L1101.8 177.5zM1107.5 185.5L1111.2 179L1103.8 179zM1109.5 182.4L1113.2 175.9L1105.9 175.9zM1111.6 183.9L1115.3 177.4L1107.9 177.4zM1113.7 184.7L1117.3 178.3L1110 178.3zM1115.7 184.2L1119.4 177.7L1112 177.7zM1117.8 183L1121.4 176.5L1114.1 176.5zM1119.8 181.5L1123.5 175.1L1116.1 175.1zM1121.9 180L1125.5 173.5L1118.2 173.5zM1123.9 182.9L1127.6 176.4L1120.3 176.4zM1126 181.4L1129.7 175L1122.3 175zM1128 181.8L1131.7 175.3L1124.4 175.3zM1130.1 178.2L1133.8 171.7L1126.4 171.7zM1132.1 181.3L1135.8 174.8L1128.5 174.8zM1134.2 181.2L1137.9 174.8L1130.5 174.8zM1136.3 180.8L1139.9 174.3L1132.6 174.3zM1138.3 179L1142 172.5L1134.6 172.5zM1140.4 176.5L1144 170.1L1136.7 170.1zM1142.4 176.3L1146.1 169.8L1138.7 169.8zM1144.5 176.6L1148.1 170.1L1140.8 170.1zM1146.5 175.1L1150.2 168.7L1142.9 168.7zM1148.6 175.1L1152.3 168.6L1144.9 168.6zM1150.6 177.3L1154.3 170.8L1147 170.8zM1152.7 177.5L1156.4 171.1L1149 171.1zM1154.7 174.1L1158.4 167.6L1151.1 167.6zM1156.8 174.6L1160.5 168.1L1153.1 168.1zM1158.9 177.2L1162.5 170.7L1155.2 170.7zM1160.9 174.3L1164.6 167.8L1157.2 167.8zM1163 175.1L1166.6 168.6L1159.3 168.6zM1165 174.8L1168.7 168.3L1161.3 168.3zM1167.1 174.7L1170.8 168.2L1163.4 168.2zM1169.1 175L1172.8 168.5L1165.5 168.5zM1171.2 175.4L1174.9 168.9L1167.5 168.9zM1173.2 173.9L1176.9 167.4L1169.6 167.4zM1175.3 173.3L1179 166.8L1171.6 166.8zM1177.3 170.5L1181 164L1173.7 164zM1179.4 173.6L1183.1 167.1L1175.7 167.1zM1181.5 169.8L1185.1 163.4L1177.8 163.4zM1183.5 172.7L1187.2 166.2L1179.8 166.2zM1185.6 171.7L1189.2 165.3L1181.9 165.3zM1187.6 169.5L1191.3 163L1183.9 163zM1189.7 169.2L1193.4 162.7L1186 162.7zM1191.7 170.5L1195.4 164L1188.1 164zM1193.8 171.8L1197.5 165.3L1190.1 165.3zM1195.8 169.7L1199.5 163.3L1192.2 163.3zM1197.9 169.8L1201.6 163.4L1194.2 163.4zM1200 167.3L1203.6 160.8L1196.3 160.8zM1202 170L1205.7 163.5L1198.3 163.5zM1204.1 169L1207.7 162.5L1200.4 162.5zM1206.1 166.4L1209.8 160L1202.4 160zM1208.2 169.7L1211.8 163.3L1204.5 163.3zM1210.2 167.9L1213.9 161.4L1206.5 161.4zM1212.3 166L1216 159.6L1208.6 159.6zM1214.3 166L1218 159.5L1210.7 159.5zM1216.4 168.8L1220.1 162.3L1212.7 162.3zM1218.4 168.6L1222.1 162.1L1214.8 162.1zM1220.5 168.2L1224.2 161.7L1216.8 161.7zM1222.6 164.4L1226.2 158L1218.9 158zM1224.6 167L1228.3 160.5L1220.9 160.5zM1226.7 164.7L1230.3 158.2L1223 158.2zM1228.7 163.8L1232.4 157.4L1225 157.4zM1230.8 165.9L1234.4 159.5L1227.1 159.5zM1232.8 166L1236.5 159.5L1229.2 159.5zM1234.9 162.9L1238.6 156.4L1231.2 156.4zM1236.9 164.1L1240.6 157.6L1233.3 157.6zM1239 165.3L1242.7 158.9L1235.3 158.9zM1241 163.2L1244.7 156.7L1237.4 156.7zM1243.1 164.7L1246.8 158.2L1239.4 158.2zM1245.2 164.7L1248.8 158.2L1241.5 158.2zM1247.2 165.7L1250.9 159.2L1243.5 159.2zM1249.3 162.4L1252.9 155.9L1245.6 155.9zM1251.3 161.6L1255 155.1L1247.6 155.1zM1253.4 162.6L1257 156.1L1249.7 156.1zM1255.4 161.2L1259.1 154.7L1251.8 154.7zM1257.5 164.8L1261.2 158.3L1253.8 158.3zM1259.5 163.8L1263.2 157.3L1255.9 157.3zM1261.6 162.6L1265.3 156.2L1257.9 156.2zM1263.6 160.5L1267.3 154L1260 154zM1265.7 160.4L1269.4 153.9L1262 153.9zM1267.8 162.5L1271.4 156.1L1264.1 156.1zM1269.8 163L1273.5 156.5L1266.1 156.5zM1271.9 162.1L1275.5 155.6L1268.2 155.6zM1273.9 161.6L1277.6 155.2L1270.2 155.2zM1276 159.7L1279.7 153.2L1272.3 153.2zM1278 162.6L1281.7 156.1L1274.4 156.1zM1280.1 159.8L1283.8 153.4L1276.4 153.4zM1282.1 159.9L1285.8 153.4L1278.5 153.4zM1284.2 159.4L1287.9 152.9L1280.5 152.9zM1286.2 159.4L1289.9 152.9L1282.6 152.9zM1288.3 159.9L1292 153.4L1284.6 153.4zM1290.4 160.9L1294 154.4L1286.7 154.4zM1292.4 160.7L1296.1 154.2L1288.7 154.2zM1294.5 160.3L1298.1 153.9L1290.8 153.9zM1296.5 158.4L1300.2 151.9L1292.8 151.9zM1298.6 161.1L1302.3 154.6L1294.9 154.6zM1300.6 160.4L1304.3 154L1297 154zM1302.7 157.9L1306.4 151.5L1299 151.5zM1304.7 159.8L1308.4 153.4L1301.1 153.4zM1306.8 160.4L1310.5 153.9L1303.1 153.9zM1308.9 160.4L1312.5 153.9L1305.2 153.9zM1310.9 158L1314.6 151.5L1307.2 151.5zM1313 158.8L1316.6 152.3L1309.3 152.3zM1315 156L1318.7 149.5L1311.3 149.5zM1317.1 156.2L1320.7 149.8L1313.4 149.8zM1319.1 155.7L1322.8 149.2L1315.4 149.2zM1321.2 158.5L1324.9 152.1L1317.5 152.1zM1323.2 159.1L1326.9 152.7L1319.6 152.7zM1325.3 159L1329 152.5L1321.6 152.5zM1327.3 157.2L1331 150.7L1323.7 150.7zM1329.4 156.2L1333.1 149.7L1325.7 149.7zM1331.5 157.1L1335.1 150.6L1327.8 150.6zM1333.5 157.9L1337.2 151.4L1329.8 151.4zM1335.6 157L1339.2 150.5L1331.9 150.5zM1337.6 156L1341.3 149.5L1333.9 149.5zM1339.7 155.6L1343.3 149.2L1336 149.2zM1341.7 155.2L1345.4 148.7L1338.1 148.7zM1343.8 154.7L1347.5 148.2L1340.1 148.2zM1345.8 155.3L1349.5 148.8L1342.2 148.8zM1347.9 157.4L1351.6 150.9L1344.2 150.9zM1349.9 154.3L1353.6 147.8L1346.3 147.8zM1352 156.4L1355.7 149.9L1348.3 149.9zM1354.1 155.1L1357.7 148.6L1350.4 148.6zM1356.1 155.8L1359.8 149.3L1352.4 149.3zM1358.2 154.1L1361.8 147.6L1354.5 147.6zM1360.2 156.2L1363.9 149.7L1356.5 149.7zM1362.3 155.9L1365.9 149.4L1358.6 149.4zM1364.3 155.7L1368 149.2L1360.7 149.2zM1366.4 156L1370.1 149.5L1362.7 149.5zM1368.4 152.8L1372.1 146.3L1364.8 146.3zM1370.5 153.9L1374.2 147.4L1366.8 147.4zM1372.5 154.8L1376.2 148.3L1368.9 148.3zM1374.6 154.4L1378.3 147.9L1370.9 147.9zM1376.7 151.8L1380.3 145.3L1373 145.3zM1378.7 153.6L1382.4 147.2L1375 147.2zM1380.8 154.6L1384.4 148.2L1377.1 148.2zM1382.8 152.1L1386.5 145.6L1379.1 145.6zM1384.9 152.6L1388.5 146.1L1381.2 146.1zM1386.9 151.1L1390.6 144.6L1383.3 144.6zM1389 154.6L1392.7 148.1L1385.3 148.1zM1391 152.9L1394.7 146.4L1387.4 146.4zM1393.1 151.3L1396.8 144.9L1389.4 144.9zM1395.1 151.1L1398.8 144.6L1391.5 144.6zM1397.2 150.7L1400.9 144.2L1393.5 144.2zM1399.3 154.1L1402.9 147.7L1395.6 147.7zM1401.3 152.9L1405 146.5L1397.6 146.5zM1403.4 153.5L1407 147L1399.7 147zM1405.4 153.1L1409.1 146.6L1401.7 146.6zM1407.5 149.7L1411.2 143.2L1403.8 143.2zM1409.5 151.2L1413.2 144.7L1405.9 144.7zM1411.6 149.6L1415.3 143.1L1407.9 143.1zM1413.6 151.8L1417.3 145.3L1410 145.3zM1415.7 149.6L1419.4 143.1L1412 143.1zM1417.7 151.2L1421.4 144.7L1414.1 144.7zM1419.8 151.9L1423.5 145.4L1416.1 145.4zM1421.9 149.6L1425.5 143.1L1418.2 143.1zM1423.9 148.8L1427.6 142.3L1420.2 142.3zM1426 152.2L1429.6 145.7L1422.3 145.7zM1428 150L1431.7 143.5L1424.3 143.5zM1430.1 149.8L1433.8 143.3L1426.4 143.3zM1432.1 151.4L1435.8 144.9L1428.5 144.9zM1434.2 150.6L1437.9 144.1L1430.5 144.1zM1436.2 151.4L1439.9 145L1432.6 145zM1438.3 151.1L1442 144.6L1434.6 144.6zM1440.4 150.7L1444 144.3L1436.7 144.3zM1442.4 149.2L1446.1 142.7L1438.7 142.7zM1444.5 148.9L1448.1 142.4L1440.8 142.4zM1446.5 150.6L1450.2 144.1L1442.8 144.1zM1448.6 151.3L1452.2 144.8L1444.9 144.8zM1450.6 149.9L1454.3 143.4L1446.9 143.4zM1452.7 148.3L1456.4 141.8L1449 141.8zM1454.7 150.2L1458.4 143.8L1451.1 143.8zM1456.8 149.6L1460.5 143.1L1453.1 143.1zM1458.8 149.9L1462.5 143.5L1455.2 143.5zM1460.9 147.4L1464.6 140.9L1457.2 140.9zM1463 148.3L1466.6 141.8L1459.3 141.8zM1465 150.2L1468.7 143.7L1461.3 143.7zM1467.1 149.9L1470.7 143.4L1463.4 143.4zM1469.1 148.6L1472.8 142.1L1465.4 142.1zM1471.2 147.8L1474.8 141.3L1467.5 141.3zM1473.2 147.3L1476.9 140.8L1469.6 140.8zM1475.3 149.5L1479 143L1471.6 143zM1477.3 149.1L1481 142.6L1473.7 142.6zM1479.4 146.7L1483.1 140.3L1475.7 140.3zM1481.4 147.8L1485.1 141.3L1477.8 141.3zM1483.5 148.2L1487.2 141.8L1479.8 141.8zM1485.6 148L1489.2 141.6L1481.9 141.6zM1487.6 145.3L1491.3 138.8L1483.9 138.8zM1489.7 147.8L1493.3 141.4L1486 141.4zM1491.7 146.7L1495.4 140.2L1488 140.2zM1493.8 147.5L1497.4 141L1490.1 141zM1495.8 147.1L1499.5 140.6L1492.2 140.6zM1497.9 145.2L1501.6 138.7L1494.2 138.7zM1499.9 144.5L1503.6 138L1496.3 138zM1502 147L1505.7 140.6L1498.3 140.6zM1504 147.6L1507.7 141.2L1500.4 141.2zM1506.1 145.3L1509.8 138.9L1502.4 138.9zM1508.2 147.4L1511.8 140.9L1504.5 140.9zM1510.2 148.1L1513.9 141.7L1506.5 141.7zM1512.3 144.3L1515.9 137.9L1508.6 137.9zM1514.3 146.2L1518 139.7L1510.6 139.7zM1516.4 144.5L1520 138L1512.7 138zM1518.4 146.1L1522.1 139.6L1514.8 139.6zM1520.5 144L1524.2 137.6L1516.8 137.6zM1522.5 145.7L1526.2 139.2L1518.9 139.2zM1524.6 146.8L1528.3 140.4L1520.9 140.4zM1526.6 147.3L1530.3 140.9L1523 140.9zM1528.7 145L1532.4 138.5L1525 138.5zM1530.8 144.6L1534.4 138.1L1527.1 138.1zM1532.8 143.4L1536.5 136.9L1529.1 136.9zM1534.9 146.7L1538.5 140.2L1531.2 140.2zM1536.9 144.4L1540.6 137.9L1533.2 137.9zM1539 145.3L1542.7 138.8L1535.3 138.8zM1541 144.6L1544.7 138.2L1537.4 138.2zM1543.1 146L1546.8 139.6L1539.4 139.6zM1545.1 145.4L1548.8 138.9L1541.5 138.9zM1547.2 144.3L1550.9 137.8L1543.5 137.8zM1549.3 142.5L1552.9 136L1545.6 136zM1551.3 145.8L1555 139.3L1547.6 139.3zM1553.4 144.1L1557 137.6L1549.7 137.6zM1555.4 142.7L1559.1 136.2L1551.7 136.2zM1557.5 141.9L1561.1 135.4L1553.8 135.4zM1559.5 144.9L1563.2 138.5L1555.8 138.5zM1561.6 145.1L1565.3 138.6L1557.9 138.6zM1563.6 141.6L1567.3 135.1L1560 135.1zM1565.7 141.3L1569.4 134.9L1562 134.9zM1567.7 143.3L1571.4 136.8L1564.1 136.8zM1569.8 144.9L1573.5 138.4L1566.1 138.4zM1571.9 141.2L1575.5 134.7L1568.2 134.7zM1573.9 143.3L1577.6 136.8L1570.2 136.8zM1576 141L1579.6 134.5L1572.3 134.5zM1578 142.1L1581.7 135.6L1574.3 135.6zM1580.1 141.1L1583.7 134.6L1576.4 134.6zM1582.1 143.7L1585.8 137.2L1578.5 137.2zM1584.2 141L1587.9 134.5L1580.5 134.5zM1586.2 143.2L1589.9 136.7L1582.6 136.7zM1588.3 142.3L1592 135.9L1584.6 135.9zM1590.3 140.4L1594 133.9L1586.7 133.9zM1592.4 140.3L1596.1 133.9L1588.7 133.9zM1594.5 142.9L1598.1 136.4L1590.8 136.4zM1596.5 142.6L1600.2 136.1L1592.8 136.1zM1598.6 141.7L1602.2 135.3L1594.9 135.3zM1600.6 141.1L1604.3 134.6L1596.9 134.6zM1602.7 141.6L1606.3 135.1L1599 135.1zM1604.7 142.5L1608.4 136L1601.1 136zM1606.8 141.9L1610.5 135.4L1603.1 135.4zM1608.8 139.8L1612.5 133.3L1605.2 133.3zM1610.9 138.9L1614.6 132.5L1607.2 132.5zM1612.9 142.4L1616.6 135.9L1609.3 135.9zM1615 140.1L1618.7 133.6L1611.3 133.6zM1617.1 139.1L1620.7 132.7L1613.4 132.7zM1619.1 142L1622.8 135.5L1615.4 135.5zM1621.2 138.6L1624.8 132.1L1617.5 132.1zM1623.2 141.5L1626.9 135L1619.5 135zM1625.3 139.4L1628.9 132.9L1621.6 132.9zM1627.3 139.5L1631 133L1623.7 133zM1629.4 139.1L1633.1 132.6L1625.7 132.6zM1631.4 140.3L1635.1 133.8L1627.8 133.8zM1633.5 139.7L1637.2 133.3L1629.8 133.3zM1635.5 139L1639.2 132.5L1631.9 132.5zM1637.6 139.5L1641.3 133.1L1633.9 133.1zM1639.7 138.5L1643.3 132L1636 132zM1641.7 139.2L1645.4 132.8L1638 132.8zM1643.8 139.2L1647.4 132.7L1640.1 132.7zM1645.8 140.8L1649.5 134.3L1642.1 134.3zM1647.9 138.3L1651.6 131.8L1644.2 131.8zM1649.9 138.7L1653.6 132.2L1646.3 132.2zM1652 139.6L1655.7 133.2L1648.3 133.2zM1654 137.4L1657.7 130.9L1650.4 130.9zM1656.1 137.2L1659.8 130.7L1652.4 130.7zM1658.1 138.4L1661.8 132L1654.5 132zM1660.2 139.5L1663.9 133L1656.5 133zM1662.3 138.2L1665.9 131.7L1658.6 131.7zM1664.3 139.6L1668 133.1L1660.6 133.1zM1666.4 139.4L1670 132.9L1662.7 132.9zM1668.4 138.1L1672.1 131.6L1664.7 131.6zM1670.5 139.4L1674.2 132.9L1666.8 132.9zM1672.5 137.8L1676.2 131.4L1668.9 131.4zM1674.6 137.5L1678.3 131L1670.9 131zM1676.6 139.3L1680.3 132.8L1673 132.8zM1678.7 136.7L1682.4 130.3L1675 130.3zM1680.8 138.9L1684.4 132.5L1677.1 132.5zM1682.8 136.2L1686.5 129.7L1679.1 129.7zM1684.9 135.9L1688.5 129.4L1681.2 129.4zM1686.9 136.9L1690.6 130.4L1683.2 130.4z" fill="#ff00ff"/>
<path d="M1004 262.5h5.4v5.4h-5.4zM1008.1 226.7h5.4v5.4h-5.4zM1012.2 199.2h5.4v5.4h-5.4zM1016.3 173.4h5.4v5.4h-5.4zM1020.4 151.1h5.4v5.4h-5.4zM1024.5 134.6h5.4v5.4h-5.4zM1028.6 118.2h5.4v5.4h-5.4zM1032.7 106.1h5.4v5.4h-5.4zM1036.8 97.2h5.4v5.4h-5.4zM1041 89.1h5.4v5.4h-5.4zM1045.1 83h5.4v5.4h-5.4zM1049.2 78.4h5.4v5.4h-5.4zM1053.3 74.5h5.4v5.4h-5.4zM1057.4 71.1h5.4v5.4h-5.4zM1061.5 68h5.4v5.4h-5.4zM1065.6 65.3h5.4v5.4h-5.4zM1069.7 62.9h5.4v5.4h-5.4zM1073.8 61.1h5.4v5.4h-5.4zM1077.9 59.3h5.4v5.4h-5.4zM1082.1 57.5h5.4v5.4h-5.4zM1086.2 56.2h5.4v5.4h-5.4zM1090.3 55h5.4v5.4h-5.4zM1094.4 53.7h5.4v5.4h-5.4zM1098.5 52.7h5.4v5.4h-5.4zM1102.6 51.9h5.4v5.4h-5.4zM1106.7 51h5.4v5.4h-5.4zM1110.8 50.2h5.4v5.4h-5.4zM1114.9 49.7h5.4v5.4h-5.4zM1119 49.1h5.4v5.4h-5.4zM1123.1 48.5h5.4v5.4h-5.4zM1127.3 48h5.4v5.4h-5.4zM1131.4 47.6h5.4v5.4h-5.4zM1135.5 47.1h5.4v5.4h-5.4zM1139.6 46.8h5.4v5.4h-5.4zM1143.7 46.6h5.4v5.4h-5.4zM1147.8 46.4h5.4v5.4h-5.4zM1151.9 46.2h5.4v5.4h-5.4zM1156 46h5.4v5.4h-5.4zM1160.1 45.8h5.4v5.4h-5.4zM1164.2 45.6h5.4v5.4h-5.4zM1168.3 45.6h5.4v5.4h-5.4zM1172.5 45.5h5.4v5.4h-5.4zM1176.6 45.5h5.4v5.4h-5.4zM1180.7 45.4h5.4v5.4h-5.4zM1184.8 45.3h5.4v5.4h-5.4zM1188.9 45.3h5.4v5.4h-5.4zM1193 45.2h5.4v5.4h-5.4zM1197.1 45.1h5.4v5.4h-5.4zM1201.2 45.1h5.4v5.4h-5.4zM1205.3 45h5.4v5.4h-5.4zM1209.4 45h5.4v5.4h-5.4zM1213.6 45.1h5.4v5.4h-5.4zM1217.7 45.1h5.4v5.4h-5.4zM1221.8 45.2h5.4v5.4h-5.4zM1225.9 45.2h5.4v5.4h-5.4zM1230 45.2h5.4v5.4h-5.4zM1234.1 45.3h5.4v5.4h-5.4zM1238.2 45.3h5.4v5.4h-5.4zM1242.3 45.3h5.4v5.4h-5.4zM1246.4 45.4h5.4v5.4h-5.4zM1250.5 45.4h5.4v5.4h-5.4zM1254.6 45.5h5.4v5.4h-5.4zM1258.8 45.5h5.4v5.4h-5.4zM1262.9 45.5h5.4v5.4h-5.4zM1267 45.6h5.4v5.4h-5.4zM1271.1 45.6h5.4v5.4h-5.4zM1275.2 45.7h5.4v5.4h-5.4zM1279.3 45.8h5.4v5.4h-5.4zM1283.4 45.9h5.4v5.4h-5.4zM1287.5 46h5.4v5.4h-5.4zM1291.6 46.1h5.4v5.4h-5.4zM1295.7 46.1h5.4v5.4h-5.4zM1299.8 46.2h5.4v5.4h-5.4zM1304 46.3h5.4v5.4h-5.4zM1308.1 46.4h5.4v5.4h-5.4zM1312.2 46.5h5.4v5.4h-5.4zM1316.3 46.6h5.4v5.4h-5.4zM1320.4 46.7h5.4v5.4h-5.4zM1324.5 46.8h5.4v5.4h-5.4zM1328.6 46.9h5.4v5.4h-5.4zM1332.7 47h5.4v5.4h-5.4zM1336.8 47.1h5.4v5.4h-5.4zM1340.9 47.2h5.4v5.4h-5.4zM1345.1 47.3h5.4v5.4h-5.4zM1349.2 47.4h5.4v5.4h-5.4zM1353.3 47.5h5.4v5.4h-5.4zM1357.4 47.6h5.4v5.4h-5.4zM1361.5 47.7h5.4v5.4h-5.4zM1365.6 47.8h5.4v5.4h-5.4zM1369.7 47.9h5.4v5.4h-5.4zM1373.8 48h5.4v5.4h-5.4zM1377.9 48.1h5.4v5.4h-5.4zM1382 48.2h5.4v5.4h-5.4zM1386.1 48.2h5.4v5.4h-5.4zM1390.3 48.3h5.4v5.4h-5.4zM1394.4 48.4h5.4v5.4h-5.4zM1398.5 48.5h5.4v5.4h-5.4zM1402.6 48.6h5.4v5.4h-5.4zM1406.7 48.7h5.4v5.4h-5.4zM1410.8 48.8h5.4v5.4h-5.4zM1414.9 48.9h5.4v5.4h-5.4zM1419 49h5.4v5.4h-5.4zM1423.1 49.1h5.4v5.4h-5.4zM1427.2 49.2h5.4v5.4h-5.4zM1431.4 49.3h5.4v5.4h-5.4zM1435.5 49.4h5.4v5.4h-5.4zM1439.6 49.5h5.4v5.4h-5.4zM1443.7 49.6h5.4v5.4h-5.4zM1447.8 49.7h5.4v5.4h-5.4zM1451.9 49.8h5.4v5.4h-5.4zM1456 49.9h5.4v5.4h-5.4zM1460.1 50h5.4v5.4h-5.4zM1464.2 50.1h5.4v5.4h-5.4zM1468.3 50.2h5.4v5.4h-5.4zM1472.4 50.3h5.4v5.4h-5.4zM1476.6 50.4h5.4v5.4h-5.4zM1480.7 50.4h5.4v5.4h-5.4zM1484.8 50.5h5.4v5.4h-5.4zM1488.9 50.5h5.4v5.4h-5.4zM1493 50.5h5.4v5.4h-5.4zM1497.1 50.6h5.4v5.4h-5.4zM1501.2 50.6h5.4v5.4h-5.4zM1505.3 50.7h5.4v5.4h-5.4zM1509.4 50.7h5.4v5.4h-5.4zM1513.5 50.7h5.4v5.4h-5.4zM1517.6 50.8h5.4v5.4h-5.4zM1521.8 50.8h5.4v5.4h-5.4zM1525.9 50.8h5.4v5.4h-5.4zM1530 50.9h5.4v5.4h-5.4zM1534.1 50.9h5.4v5.4h-5.4zM1538.2 51h5.4v5.4h-5.4zM1542.3 51h5.4v5.4h-5.4zM1546.4 51h5.4v5.4h-5.4zM1550.5 51.1h5.4v5.4h-5.4zM1554.6 51.1h5.4v5.4h-5.4zM1558.7 51.2h5.4v5.4h-5.4zM1562.9 51.2h5.4v5.4h-5.4zM1567 51.2h5.4v5.4h-5.4zM1571.1 51.3h5.4v5.4h-5.4zM1575.2 51.3h5.4v5.4h-5.4zM1579.3 51.3h5.4v5.4h-5.4zM1583.4 51.4h5.4v5.4h-5.4zM1587.5 51.4h5.4v5.4h-5.4zM1591.6 51.5h5.4v5.4h-5.4zM1595.7 51.5h5.4v5.4h-5.4zM1599.8 51.5h5.4v5.4h-5.4zM1603.9 51.6h5.4v5.4h-5.4zM1608.1 51.6h5.4v5.4h-5.4zM1612.2 51.7h5.4v5.4h-5.4zM1616.3 51.7h5.4v5.4h-5.4zM1620.4 51.7h5.4v5.4h-5.4zM1624.5 51.8h5.4v5.4h-5.4zM1628.6 51.8h5.4v5.4h-5.4zM1632.7 51.8h5.4v5.4h-5.4zM1636.8 51.9h5.4v5.4h-5.4zM1640.9 51.9h5.4v5.4h-5.4zM1645 52h5.4v5.4h-5.4zM1649.1 52h5.4v5.4h-5.4zM1653.3 52h5.4v5.4h-5.4zM1657.4 52.1h5.4v5.4h-5.4zM1661.5 52.1h5.4v5.4h-5.4zM1665.6 52.1h5.4v5.4h-5.4zM1669.7 52.2h5.4v5.4h-5.4zM1673.8 52.2h5.4v5.4h-5.4zM1677.9 52.3h5.4v5.4h-5.4zM1682 52.3h5.4v5.4h-5.4z" fill="#000000"/>
</g>
<rect x="1002.7" y="20" width="684.9" height="509.5" fill="none" stroke="#000" stroke-width="2.1"/>
<path d="M1002.7 529.5h-10.4M1002.7 497.7h-5.6M1002.7 465.8h-10.4M1002.7 434h-5.6M1002.7 402.1h-10.4M1002.7 370.3h-5.6M1002.7 338.4h-10.4M1002.7 306.6h-5.6M1002.7 274.8h-10.4M1002.7 242.9h-5.6M1002.7 211.1h-10.4M1002.7 179.2h-5.6M1002.7 147.4h-10.4M1002.7 115.5h-5.6M1002.7 83.7h-10.4M1002.7 51.8h-5.6M1002.7 20h-10.4M1002.7 529.5v10.4M1071.2 529.5v5.6M1139.7 529.5v10.4M1208.2 529.5v5.6M1276.7 529.5v10.4M1345.2 529.5v5.6M1413.6 529.5v10.4M1482.1 529.5v5.6M1550.6 529.5v10.4M1619.1 529.5v5.6M1687.6 529.5v10.4" stroke="#000" stroke-width="2.1" fill="none"/>
<g font-family='"Liberation Sans", Arial, Helvetica, sans-serif' font-weight="bold" font-size="26.5" fill="#000">
<text x="986" y="539.3" text-anchor="end">0</text>
<text x="986" y="475.6" text-anchor="end">200</text>
<text x="986" y="411.9" text-anchor="end">400</text>
<text x="986" y="348.2" text-anchor="end">600</text>
<text x="986" y="284.6" text-anchor="end">800</text>
<text x="986" y="220.9" text-anchor="end">1000</text>
<text x="986" y="157.2" text-anchor="end">1200</text>
<text x="986" y="93.5" text-anchor="end">1400</text>
<text x="986" y="29.8" text-anchor="end">1600</text>
<text x="1002.7" y="567" text-anchor="middle">0</text>
<text x="1139.7" y="567" text-anchor="middle">200</text>
<text x="1276.7" y="567" text-anchor="middle">400</text>
<text x="1413.6" y="567" text-anchor="middle">600</text>
<text x="1550.6" y="567" text-anchor="middle">800</text>
<text x="1687.6" y="567" text-anchor="middle">1000</text>
</g>
<text x="1345" y="613" text-anchor="middle" font-family='"Liberation Sans", Arial, Helvetica, sans-serif' font-weight="bold" font-size="33.4" fill="#000">Time (seconds)</text>
<text transform="translate(905,294) rotate(-90)" text-anchor="middle" font-family='"Liberation Sans", Arial, Helvetica, sans-serif' font-weight="bold" font-size="33.4" fill="#000">Storage Modulus (Pa)</text>
<rect x="1260" y="279.8" width="373" height="56.5" fill="#fff" stroke="#000" stroke-width="1"/>
<g font-family='"Liberation Sans", Arial, Helvetica, sans-serif' font-size="24" fill="#000">
<path d="M1289 292h7v7h-7z" fill="#000000"/>
<text x="1326.5" y="304">5C0</text>
<path d="M1418.5 295.5a3.5 3.5 0 1 0 7 0a3.5 3.5 0 1 0 -7 0z" fill="#ff0000"/>
<text x="1456" y="304">5C1</text>
<path d="M1552 291.6L1555.7 298.1L1548.3 298.1z" fill="#0000ff"/>
<text x="1586" y="304">5C2</text>
<path d="M1292.5 326.2L1296.2 319.7L1288.8 319.7z" fill="#ff00ff"/>
<text x="1326.5" y="330.8">8C0</text>
<path d="M1422 317.9L1426.4 322.3L1422 326.7L1417.6 322.3z" fill="#007f00"/>
<text x="1456" y="330.8">8C1</text>
<path d="M1548.2 322.3L1554.6 318.6L1554.6 326z" fill="#000080"/>
<text x="1586" y="330.8">8C2</text>
</g>
<text transform="translate(823.19,75.91) scale(0.702,0.785)" font-family='"Liberation Sans", Arial, Helvetica, sans-serif' font-weight="bold" font-size="100" fill="#000">c</text>
</g>
<g id="panel-d">
<defs><clipPath id="cpd"><rect x="156.3" y="667.8" width="618.3" height="487.2"/></clipPath></defs>
<g clip-path="url(#cpd)">
<path d="M153.7 692.2h5.2v5.2h-5.2zM164 692.2h5.2v5.2h-5.2zM174.3 692.3h5.2v5.2h-5.2zM184.6 692.8h5.2v5.2h-5.2zM194.9 693.2h5.2v5.2h-5.2zM205.2 693.2h5.2v5.2h-5.2zM215.5 693.7h5.2v5.2h-5.2zM225.8 694.2h5.2v5.2h-5.2zM236.1 694.5h5.2v5.2h-5.2zM246.4 695h5.2v5.2h-5.2zM256.7 695.2h5.2v5.2h-5.2zM267 695.5h5.2v5.2h-5.2zM277.3 696h5.2v5.2h-5.2zM287.6 696.5h5.2v5.2h-5.2zM297.9 696.7h5.2v5.2h-5.2zM308.2 697.2h5.2v5.2h-5.2zM318.5 697.5h5.2v5.2h-5.2zM328.8 698.2h5.2v5.2h-5.2zM339.1 699h5.2v5.2h-5.2zM349.4 699.7h5.2v5.2h-5.2zM359.7 700.5h5.2v5.2h-5.2zM370 701.5h5.2v5.2h-5.2zM380.3 702.2h5.2v5.2h-5.2zM390.6 703.2h5.2v5.2h-5.2zM400.9 704h5.2v5.2h-5.2zM411.2 704.7h5.2v5.2h-5.2zM421.5 705.7h5.2v5.2h-5.2zM431.9 706.7h5.2v5.2h-5.2zM441.9 707.9h5.2v5.2h-5.2zM452.1 709.4h5.2v5.2h-5.2zM462.5 710.9h5.2v5.2h-5.2zM472.8 712.2h5.2v5.2h-5.2zM483 713.7h5.2v5.2h-5.2zM493.5 714.9h5.2v5.2h-5.2zM503.7 716.7h5.2v5.2h-5.2zM513.9 718.4h5.2v5.2h-5.2zM524.1 719.7h5.2v5.2h-5.2zM534.6 721.2h5.2v5.2h-5.2zM545.3 729.4h5.2v5.2h-5.2zM555.3 730.1h5.2v5.2h-5.2zM565.7 730.9h5.2v5.2h-5.2zM576 731.4h5.2v5.2h-5.2zM586.9 744.8h5.2v5.2h-5.2zM596.9 751.3h5.2v5.2h-5.2zM607.4 760.5h5.2v5.2h-5.2zM622.8 844.1h5.2v5.2h-5.2zM638 951.6h5.2v5.2h-5.2zM640.5 974.3h5.2v5.2h-5.2zM650.5 989h5.2v5.2h-5.2zM665.5 1032.1h5.2v5.2h-5.2zM679.2 1077.3h5.2v5.2h-5.2zM682.2 1092.2h5.2v5.2h-5.2zM698.6 1122.4h5.2v5.2h-5.2zM700.6 1125.4h5.2v5.2h-5.2zM713.1 1133.3h5.2v5.2h-5.2zM725.3 1144.1h5.2v5.2h-5.2z" fill="#000000"/>
<path d="M153.4 1083.9a2.9 2.9 0 1 0 5.8 0a2.9 2.9 0 1 0 -5.8 0zM161.1 1083.4a2.9 2.9 0 1 0 5.8 0a2.9 2.9 0 1 0 -5.8 0zM168.9 1083a2.9 2.9 0 1 0 5.8 0a2.9 2.9 0 1 0 -5.8 0zM176.6 1082.6a2.9 2.9 0 1 0 5.8 0a2.9 2.9 0 1 0 -5.8 0zM184.3 1082.1a2.9 2.9 0 1 0 5.8 0a2.9 2.9 0 1 0 -5.8 0zM192 1081.6a2.9 2.9 0 1 0 5.8 0a2.9 2.9 0 1 0 -5.8 0zM199.8 1081.2a2.9 2.9 0 1 0 5.8 0a2.9 2.9 0 1 0 -5.8 0zM207.5 1080.7a2.9 2.9 0 1 0 5.8 0a2.9 2.9 0 1 0 -5.8 0zM215.2 1080.2a2.9 2.9 0 1 0 5.8 0a2.9 2.9 0 1 0 -5.8 0zM223 1079.8a2.9 2.9 0 1 0 5.8 0a2.9 2.9 0 1 0 -5.8 0zM230.7 1079.3a2.9 2.9 0 1 0 5.8 0a2.9 2.9 0 1 0 -5.8 0zM238.4 1078.8a2.9 2.9 0 1 0 5.8 0a2.9 2.9 0 1 0 -5.8 0zM246.2 1078.4a2.9 2.9 0 1 0 5.8 0a2.9 2.9 0 1 0 -5.8 0zM253.9 1078.1a2.9 2.9 0 1 0 5.8 0a2.9 2.9 0 1 0 -5.8 0zM261.6 1077.8a2.9 2.9 0 1 0 5.8 0a2.9 2.9 0 1 0 -5.8 0zM269.3 1077.4a2.9 2.9 0 1 0 5.8 0a2.9 2.9 0 1 0 -5.8 0zM277.1 1077.1a2.9 2.9 0 1 0 5.8 0a2.9 2.9 0 1 0 -5.8 0zM284.8 1076.8a2.9 2.9 0 1 0 5.8 0a2.9 2.9 0 1 0 -5.8 0zM292.5 1076.5a2.9 2.9 0 1 0 5.8 0a2.9 2.9 0 1 0 -5.8 0zM300.3 1076.2a2.9 2.9 0 1 0 5.8 0a2.9 2.9 0 1 0 -5.8 0zM308 1075.9a2.9 2.9 0 1 0 5.8 0a2.9 2.9 0 1 0 -5.8 0zM315.7 1075.6a2.9 2.9 0 1 0 5.8 0a2.9 2.9 0 1 0 -5.8 0zM323.5 1075.3a2.9 2.9 0 1 0 5.8 0a2.9 2.9 0 1 0 -5.8 0zM331.2 1075.2a2.9 2.9 0 1 0 5.8 0a2.9 2.9 0 1 0 -5.8 0zM338.9 1075a2.9 2.9 0 1 0 5.8 0a2.9 2.9 0 1 0 -5.8 0zM346.6 1074.9a2.9 2.9 0 1 0 5.8 0a2.9 2.9 0 1 0 -5.8 0zM354.4 1074.7a2.9 2.9 0 1 0 5.8 0a2.9 2.9 0 1 0 -5.8 0zM362.1 1074.6a2.9 2.9 0 1 0 5.8 0a2.9 2.9 0 1 0 -5.8 0zM369.8 1074.4a2.9 2.9 0 1 0 5.8 0a2.9 2.9 0 1 0 -5.8 0zM377.6 1074.2a2.9 2.9 0 1 0 5.8 0a2.9 2.9 0 1 0 -5.8 0zM385.3 1074.1a2.9 2.9 0 1 0 5.8 0a2.9 2.9 0 1 0 -5.8 0zM393 1073.9a2.9 2.9 0 1 0 5.8 0a2.9 2.9 0 1 0 -5.8 0zM400.8 1073.8a2.9 2.9 0 1 0 5.8 0a2.9 2.9 0 1 0 -5.8 0zM408.5 1073.7a2.9 2.9 0 1 0 5.8 0a2.9 2.9 0 1 0 -5.8 0zM416.2 1073.5a2.9 2.9 0 1 0 5.8 0a2.9 2.9 0 1 0 -5.8 0zM423.9 1073.4a2.9 2.9 0 1 0 5.8 0a2.9 2.9 0 1 0 -5.8 0zM431.7 1073.1a2.9 2.9 0 1 0 5.8 0a2.9 2.9 0 1 0 -5.8 0zM439.4 1073.1a2.9 2.9 0 1 0 5.8 0a2.9 2.9 0 1 0 -5.8 0zM447.1 1073.1a2.9 2.9 0 1 0 5.8 0a2.9 2.9 0 1 0 -5.8 0zM454.9 1073.1a2.9 2.9 0 1 0 5.8 0a2.9 2.9 0 1 0 -5.8 0zM462.6 1073.1a2.9 2.9 0 1 0 5.8 0a2.9 2.9 0 1 0 -5.8 0zM470.3 1073.1a2.9 2.9 0 1 0 5.8 0a2.9 2.9 0 1 0 -5.8 0zM478.1 1073.1a2.9 2.9 0 1 0 5.8 0a2.9 2.9 0 1 0 -5.8 0zM485.8 1073.1a2.9 2.9 0 1 0 5.8 0a2.9 2.9 0 1 0 -5.8 0zM493.5 1073.1a2.9 2.9 0 1 0 5.8 0a2.9 2.9 0 1 0 -5.8 0zM501.2 1073.1a2.9 2.9 0 1 0 5.8 0a2.9 2.9 0 1 0 -5.8 0zM509 1073.1a2.9 2.9 0 1 0 5.8 0a2.9 2.9 0 1 0 -5.8 0zM516.7 1073.1a2.9 2.9 0 1 0 5.8 0a2.9 2.9 0 1 0 -5.8 0zM524.4 1073.1a2.9 2.9 0 1 0 5.8 0a2.9 2.9 0 1 0 -5.8 0zM532.2 1073.1a2.9 2.9 0 1 0 5.8 0a2.9 2.9 0 1 0 -5.8 0zM539.9 1073.1a2.9 2.9 0 1 0 5.8 0a2.9 2.9 0 1 0 -5.8 0zM547.6 1073.1a2.9 2.9 0 1 0 5.8 0a2.9 2.9 0 1 0 -5.8 0zM555.4 1073.1a2.9 2.9 0 1 0 5.8 0a2.9 2.9 0 1 0 -5.8 0zM563.2 1075.4a2.9 2.9 0 1 0 5.8 0a2.9 2.9 0 1 0 -5.8 0zM571.7 1080.1a2.9 2.9 0 1 0 5.8 0a2.9 2.9 0 1 0 -5.8 0zM579.7 1085.8a2.9 2.9 0 1 0 5.8 0a2.9 2.9 0 1 0 -5.8 0zM588.6 1095.1a2.9 2.9 0 1 0 5.8 0a2.9 2.9 0 1 0 -5.8 0zM597.1 1107.3a2.9 2.9 0 1 0 5.8 0a2.9 2.9 0 1 0 -5.8 0zM604.1 1115.5a2.9 2.9 0 1 0 5.8 0a2.9 2.9 0 1 0 -5.8 0zM612.1 1124.5a2.9 2.9 0 1 0 5.8 0a2.9 2.9 0 1 0 -5.8 0zM625.3 1133a2.9 2.9 0 1 0 5.8 0a2.9 2.9 0 1 0 -5.8 0zM634 1135.9a2.9 2.9 0 1 0 5.8 0a2.9 2.9 0 1 0 -5.8 0zM641 1137.9a2.9 2.9 0 1 0 5.8 0a2.9 2.9 0 1 0 -5.8 0zM648.5 1139.2a2.9 2.9 0 1 0 5.8 0a2.9 2.9 0 1 0 -5.8 0zM663.9 1145.4a2.9 2.9 0 1 0 5.8 0a2.9 2.9 0 1 0 -5.8 0zM671.4 1146.7a2.9 2.9 0 1 0 5.8 0a2.9 2.9 0 1 0 -5.8 0zM678.9 1146.7a2.9 2.9 0 1 0 5.8 0a2.9 2.9 0 1 0 -5.8 0zM686.3 1147.4a2.9 2.9 0 1 0 5.8 0a2.9 2.9 0 1 0 -5.8 0zM693.8 1148.4a2.9 2.9 0 1 0 5.8 0a2.9 2.9 0 1 0 -5.8 0zM701.3 1149.2a2.9 2.9 0 1 0 5.8 0a2.9 2.9 0 1 0 -5.8 0zM710 1149.2a2.9 2.9 0 1 0 5.8 0a2.9 2.9 0 1 0 -5.8 0zM717.5 1149.9a2.9 2.9 0 1 0 5.8 0a2.9 2.9 0 1 0 -5.8 0zM725 1150.4a2.9 2.9 0 1 0 5.8 0a2.9 2.9 0 1 0 -5.8 0z" fill="#ff0000"/>
<path d="M156.8 1128.5L160.6 1135.2L153 1135.2zM164.5 1128.5L168.3 1135.2L160.8 1135.2zM172.3 1128.5L176 1135.2L168.5 1135.2zM180 1128.5L183.8 1135.2L176.2 1135.2zM187.7 1128.5L191.5 1135.2L183.9 1135.2zM195.4 1128.5L199.2 1135.2L191.7 1135.2zM203.2 1128.5L207 1135.2L199.4 1135.2zM210.9 1128.5L214.7 1135.2L207.1 1135.2zM218.6 1128.5L222.4 1135.2L214.9 1135.2zM226.4 1128.5L230.1 1135.2L222.6 1135.2zM234.1 1128.5L237.9 1135.2L230.3 1135.2zM241.8 1128.5L245.6 1135.2L238 1135.2zM249.6 1128.5L253.3 1135.2L245.8 1135.2zM257.3 1128.5L261.1 1135.2L253.5 1135.2zM265 1128.5L268.8 1135.2L261.2 1135.2zM272.7 1128.5L276.5 1135.2L269 1135.2zM280.5 1128.5L284.3 1135.2L276.7 1135.2zM288.2 1128.5L292 1135.2L284.4 1135.2zM295.9 1128.5L299.7 1135.2L292.2 1135.2zM303.7 1128.5L307.4 1135.2L299.9 1135.2zM311.4 1128.5L315.2 1135.2L307.6 1135.2zM319.1 1128.5L322.9 1135.2L315.3 1135.2zM326.9 1128.5L330.6 1135.2L323.1 1135.2zM334.6 1128.5L338.4 1135.2L330.8 1135.2zM342.3 1128.5L346.1 1135.2L338.5 1135.2zM350 1128.5L353.8 1135.2L346.3 1135.2zM357.8 1128.5L361.6 1135.2L354 1135.2zM365.5 1128.5L369.3 1135.2L361.7 1135.2zM373.2 1128.5L377 1135.2L369.5 1135.2zM381 1128.5L384.7 1135.2L377.2 1135.2zM388.7 1128.5L392.5 1135.2L384.9 1135.2zM396.4 1128.5L400.2 1135.2L392.6 1135.2zM404.2 1128.5L407.9 1135.2L400.4 1135.2zM411.9 1128.5L415.7 1135.2L408.1 1135.2zM419.6 1128.5L423.4 1135.2L415.8 1135.2zM427.3 1128.5L431.1 1135.2L423.6 1135.2zM435.1 1128.5L438.9 1135.2L431.3 1135.2zM442.8 1128.5L446.6 1135.2L439 1135.2zM450.5 1128.5L454.3 1135.2L446.8 1135.2zM458.3 1128.5L462 1135.2L454.5 1135.2zM466 1128.5L469.8 1135.2L462.2 1135.2zM473.7 1128.5L477.5 1135.2L469.9 1135.2zM481.5 1128.5L485.2 1135.2L477.7 1135.2zM489.2 1128.5L493 1135.2L485.4 1135.2zM496.9 1128.5L500.7 1135.2L493.1 1135.2zM504.6 1128.5L508.4 1135.2L500.9 1135.2zM512.4 1128.5L516.2 1135.2L508.6 1135.2zM520.1 1128.5L523.9 1135.2L516.3 1135.2zM527.8 1128.5L531.6 1135.2L524.1 1135.2zM535.6 1128.5L539.3 1135.2L531.8 1135.2zM542.2 1127.8L546 1134.4L538.4 1134.4zM550.2 1127L553.9 1133.7L546.4 1133.7zM557.9 1126L561.7 1132.7L554.1 1132.7zM565.9 1125.3L569.6 1131.9L562.1 1131.9zM573.3 1124.5L577.1 1131.2L569.6 1131.2zM580.8 1123L584.6 1129.7L577 1129.7zM588.5 1121.5L592.3 1128.2L584.8 1128.2zM596 1119.8L599.8 1126.4L592.2 1126.4zM603.7 1117.3L607.5 1123.9L600 1123.9zM611 1114L614.8 1120.7L607.2 1120.7zM618.7 1110.8L622.5 1117.5L614.9 1117.5zM626.9 1107.8L630.7 1114.5L623.1 1114.5zM634.4 1105.3L638.2 1112L630.6 1112zM642.1 1103.3L645.9 1110L638.4 1110zM649.9 1101.1L653.6 1107.7L646.1 1107.7zM657.6 1098.6L661.4 1105.2L653.8 1105.2zM665.3 1096.6L669.1 1103.3L661.5 1103.3zM684.8 1127.8L688.5 1134.4L681 1134.4zM690.5 1131.5L694.3 1138.2L686.7 1138.2zM697.2 1136L701 1142.6L693.4 1142.6zM705.5 1140.2L709.2 1146.9L701.7 1146.9zM712.9 1141.5L716.7 1148.1L709.1 1148.1zM720.4 1142.7L724.2 1149.4L716.6 1149.4zM727.9 1143.5L731.7 1150.1L724.1 1150.1z" fill="#0000ff"/>
<path d="M160.8 855.3L164.6 848.7L157 848.7zM165.8 848.4L169.5 841.7L162 841.7zM177 850.9L180.8 844.2L173.2 844.2zM187 848.9L190.7 842.2L183.2 842.2zM197.4 845.4L201.2 838.7L193.6 838.7zM207.6 845.9L211.4 839.2L203.9 839.2zM218.1 844.1L221.9 837.5L214.3 837.5zM228.1 843.4L231.9 836.7L224.3 836.7zM238.6 842.1L242.3 835.5L234.8 835.5zM248.8 840.4L252.6 833.7L245 833.7zM259.2 839.4L263 832.7L255.5 832.7zM269.2 839.4L273 832.7L265.4 832.7zM279.7 839.1L283.5 832.5L275.9 832.5zM289.9 838.9L293.7 832.2L286.1 832.2zM300.4 838.4L304.2 831.7L296.6 831.7zM310.6 837.9L314.4 831.2L306.8 831.2zM320.8 837.4L324.6 830.7L317 830.7zM331 836.9L334.8 830.2L327.3 830.2zM341.5 830.4L345.3 823.8L337.7 823.8zM352 840.4L355.8 833.7L348.2 833.7zM362.2 840.9L366 834.2L358.4 834.2zM372.4 840.9L376.2 834.2L368.6 834.2zM382.9 840.4L386.7 833.7L379.1 833.7zM393.1 840.4L396.9 833.7L389.3 833.7zM403.3 840.4L407.1 833.7L399.6 833.7zM413.8 840.4L417.6 833.7L410 833.7zM423.8 840.4L427.6 833.7L420 833.7zM434.5 842.1L438.3 835.5L430.7 835.5zM445.7 855.3L449.5 848.7L441.9 848.7zM454.9 853.4L458.7 846.7L451.1 846.7zM465.1 852.1L468.9 845.4L461.4 845.4zM475.4 850.9L479.1 844.2L471.6 844.2zM485.8 854.8L489.6 848.2L482.1 848.2zM496.1 855.8L499.8 849.2L492.3 849.2zM506.5 857.6L510.3 850.9L502.7 850.9zM516.5 857.8L520.3 851.2L512.7 851.2zM528.5 873.8L532.2 867.1L524.7 867.1zM537.2 874.5L541 867.9L533.4 867.9zM547.7 875.8L551.4 869.1L543.9 869.1zM557.9 877.5L561.7 870.9L554.1 870.9zM568.6 882.5L572.4 875.9L564.8 875.9zM579.1 889L582.8 882.3L575.3 882.3zM592 917.7L595.8 911L588.3 911zM602.7 946.6L606.5 939.9L599 939.9zM612.7 971.4L616.5 964.7L608.9 964.7zM622.4 989.8L626.2 983.2L618.7 983.2zM637.6 1033L641.4 1026.3L633.9 1026.3zM650.6 1089.6L654.4 1082.9L646.8 1082.9zM653.9 1089.6L657.6 1082.9L650.1 1082.9zM663.1 1098.3L666.9 1091.6L659.3 1091.6zM679.3 1125.7L683.1 1119L675.5 1119zM682.3 1126.9L686 1120.3L678.5 1120.3zM694.2 1136.4L698 1129.8L690.5 1129.8zM705.5 1146.9L709.2 1140.2L701.7 1140.2zM714.2 1149.4L718 1142.7L710.4 1142.7zM726.6 1153.1L730.4 1146.5L722.9 1146.5z" fill="#ff00ff"/>
<path d="M156.9 861.8L160.7 865.6L156.9 869.3L153.2 865.6zM164.6 861.6L168.4 865.4L164.6 869.1L160.9 865.4zM172.4 861.4L176.1 865.1L172.4 868.9L168.6 865.1zM180.1 861.2L183.8 864.9L180.1 868.7L176.3 864.9zM187.8 860.9L191.6 864.7L187.8 868.4L184.1 864.7zM195.5 860.7L199.3 864.5L195.5 868.2L191.8 864.5zM203.3 860.5L207 864.3L203.3 868L199.5 864.3zM211 860.4L214.8 864.2L211 867.9L207.3 864.2zM218.7 860.3L222.5 864.1L218.7 867.8L215 864.1zM226.5 860.2L230.2 863.9L226.5 867.7L222.7 863.9zM234.2 860.1L237.9 863.8L234.2 867.6L230.4 863.8zM241.9 860L245.7 863.7L241.9 867.5L238.2 863.7zM249.7 859.9L253.4 863.6L249.7 867.4L245.9 863.6zM257.4 859.9L261.1 863.6L257.4 867.4L253.6 863.6zM265.1 859.9L268.9 863.6L265.1 867.4L261.4 863.6zM272.8 859.9L276.6 863.6L272.8 867.4L269.1 863.6zM280.6 860L284.3 863.8L280.6 867.5L276.8 863.8zM288.3 860.3L292.1 864L288.3 867.8L284.6 864zM296 860.5L299.8 864.3L296 868L292.3 864.3zM303.8 860.7L307.5 864.5L303.8 868.2L300 864.5zM311.5 861L315.2 864.7L311.5 868.5L307.7 864.7zM319.2 861.2L323 864.9L319.2 868.7L315.5 864.9zM327 861.4L330.7 865.2L327 868.9L323.2 865.2zM334.7 861.6L338.4 865.4L334.7 869.1L330.9 865.4zM342.4 862.1L346.2 865.9L342.4 869.6L338.7 865.9zM350.1 864.6L353.9 868.3L350.1 872.1L346.4 868.3zM357.9 866.1L361.6 869.9L357.9 873.6L354.1 869.9zM365.6 867.2L369.4 870.9L365.6 874.7L361.9 870.9zM373.3 867.9L377.1 871.6L373.3 875.4L369.6 871.6zM381.1 868.5L384.8 872.3L381.1 876L377.3 872.3zM388.8 868.6L392.5 872.3L388.8 876.1L385 872.3zM396.5 868.6L400.3 872.3L396.5 876.1L392.8 872.3zM404.3 868.6L408 872.3L404.3 876.1L400.5 872.3zM412 868.6L415.7 872.3L412 876.1L408.2 872.3zM419.7 868.6L423.5 872.3L419.7 876.1L416 872.3zM427.4 868.6L431.2 872.3L427.4 876.1L423.7 872.3zM435.2 868.1L438.9 871.8L435.2 875.6L431.4 871.8zM442.9 868.1L446.7 871.8L442.9 875.6L439.2 871.8zM450.6 868.1L454.4 871.8L450.6 875.6L446.9 871.8zM458.4 868.1L462.1 871.8L458.4 875.6L454.6 871.8zM466.1 868.1L469.8 871.8L466.1 875.6L462.3 871.8zM473.8 868.1L477.6 871.8L473.8 875.6L470.1 871.8zM481.6 868.1L485.3 871.8L481.6 875.6L477.8 871.8zM489.3 868.1L493 871.8L489.3 875.6L485.5 871.8zM497 868.1L500.8 871.8L497 875.6L493.3 871.8zM504.7 868.1L508.5 871.8L504.7 875.6L501 871.8zM512.5 868.1L516.2 871.8L512.5 875.6L508.7 871.8zM520.2 868.1L524 871.9L520.2 875.6L516.5 871.9zM527.9 868.9L531.7 872.6L527.9 876.4L524.2 872.6zM535.7 869.6L539.4 873.3L535.7 877.1L531.9 873.3zM543.4 871.4L547.1 875.1L543.4 878.9L539.6 875.1zM551.1 871.8L554.9 875.6L551.1 879.3L547.4 875.6zM558.4 877.3L562.1 881.1L558.4 884.8L554.6 881.1zM567.6 894.3L571.4 898L567.6 901.8L563.9 898zM577.1 926.4L580.8 930.2L577.1 933.9L573.3 930.2zM584.6 950.5L588.3 954.2L584.6 958L580.8 954.2zM591.5 969.2L595.3 972.9L591.5 976.7L587.8 972.9zM601.5 1002.1L605.3 1005.8L601.5 1009.6L597.8 1005.8zM611.5 1037L615.2 1040.7L611.5 1044.5L607.7 1040.7zM621.9 1126.7L625.7 1130.5L621.9 1134.2L618.2 1130.5zM627.7 1126.2L631.4 1130L627.7 1133.7L623.9 1130zM634.9 1120.2L638.7 1124L634.9 1127.7L631.2 1124zM636.9 1131.7L640.6 1135.5L636.9 1139.2L633.1 1135.5zM644.4 1135.4L648.1 1139.2L644.4 1142.9L640.6 1139.2zM651.4 1137.4L655.1 1141.2L651.4 1144.9L647.6 1141.2zM658.8 1137.9L662.6 1141.7L658.8 1145.4L655.1 1141.7zM665.6 1136.7L669.3 1140.4L665.6 1144.2L661.8 1140.4zM673 1136.2L676.8 1139.9L673 1143.7L669.3 1139.9zM681.8 1135.4L685.5 1139.2L681.8 1142.9L678 1139.2zM696.7 1149.1L700.5 1152.9L696.7 1156.6L693 1152.9zM704.2 1149.6L708 1153.4L704.2 1157.1L700.5 1153.4zM712.9 1149.9L716.7 1153.6L712.9 1157.4L709.2 1153.6z" fill="#007f00"/>
<path d="M152.8 1118.7L159.5 1115L159.5 1122.5zM160.6 1118.7L167.2 1115L167.2 1122.5zM168.3 1118.7L175 1115L175 1122.5zM176 1118.7L182.7 1115L182.7 1122.5zM183.8 1118.7L190.4 1115L190.4 1122.5zM191.5 1118.7L198.1 1115L198.1 1122.5zM199.2 1118.7L205.9 1115L205.9 1122.5zM206.9 1118.7L213.6 1115L213.6 1122.5zM214.7 1118.7L221.3 1115L221.3 1122.5zM222.4 1118.7L229.1 1115L229.1 1122.5zM230.1 1118.7L236.8 1115L236.8 1122.5zM237.9 1118.7L244.5 1115L244.5 1122.5zM245.6 1118.7L252.3 1115L252.3 1122.5zM253.3 1118.7L260 1115L260 1122.5zM261.1 1118.7L267.7 1115L267.7 1122.5zM268.8 1118.7L275.4 1115L275.4 1122.5zM276.5 1118.7L283.2 1115L283.2 1122.5zM284.2 1118.7L290.9 1115L290.9 1122.5zM292 1118.7L298.6 1115L298.6 1122.5zM299.7 1118.7L306.4 1115L306.4 1122.5zM307.4 1118.7L314.1 1115L314.1 1122.5zM315.2 1118.7L321.8 1115L321.8 1122.5zM322.9 1118.7L329.6 1115L329.6 1122.5zM330.6 1118.7L337.3 1115L337.3 1122.5zM338.4 1118.7L345 1115L345 1122.5zM346.1 1118.7L352.7 1115L352.7 1122.5zM353.8 1118.7L360.5 1115L360.5 1122.5zM361.5 1118.7L368.2 1115L368.2 1122.5zM369.3 1118.7L375.9 1115L375.9 1122.5zM377 1118.7L383.7 1115L383.7 1122.5zM384.7 1118.7L391.4 1115L391.4 1122.5zM392.5 1118.7L399.1 1115L399.1 1122.5zM400.2 1118.7L406.9 1115L406.9 1122.5zM407.9 1118.7L414.6 1115L414.6 1122.5zM415.7 1118.7L422.3 1115L422.3 1122.5zM423.4 1118.7L430 1115L430 1122.5zM431.1 1118.7L437.8 1115L437.8 1122.5zM438.8 1118.7L445.5 1115L445.5 1122.5zM446.6 1118.7L453.2 1115L453.2 1122.5zM454.3 1118.7L461 1115L461 1122.5zM462 1118.7L468.7 1115L468.7 1122.5zM469.8 1118.7L476.4 1115L476.4 1122.5zM477.5 1118.7L484.2 1115L484.2 1122.5zM485.2 1118.7L491.9 1115L491.9 1122.5zM493 1118.7L499.6 1115L499.6 1122.5zM500.7 1118.7L507.3 1115L507.3 1122.5zM508.4 1118.7L515.1 1115L515.1 1122.5zM516.1 1118.7L522.8 1115L522.8 1122.5zM523.9 1118.7L530.5 1115L530.5 1122.5zM531.6 1118.7L538.3 1115L538.3 1122.5zM539.3 1118.7L546 1115L546 1122.5zM547.1 1118.7L553.7 1115L553.7 1122.5zM553.2 1117.5L559.8 1113.7L559.8 1121.3zM560.9 1116.8L567.6 1113L567.6 1120.5zM568.6 1116L575.3 1112.2L575.3 1119.8zM576.4 1115L583 1111.2L583 1118.8zM584.1 1113.8L590.7 1110L590.7 1117.5zM591.8 1113L598.5 1109.2L598.5 1116.8zM599.5 1111.8L606.2 1108L606.2 1115.5zM607.3 1111.3L613.9 1107.5L613.9 1115.1zM615 1111L621.7 1107.2L621.7 1114.8zM623 1111.8L629.6 1108L629.6 1115.5zM630.9 1113.5L637.6 1109.7L637.6 1117.3zM639.4 1118L646.1 1114.2L646.1 1121.8zM647.9 1124.7L654.6 1121L654.6 1128.5zM655.4 1128.5L662 1124.7L662 1132.3zM662.9 1132.5L669.5 1128.7L669.5 1136.2zM670.3 1135.5L677 1131.7L677 1139.2zM677.8 1138.4L684.5 1134.7L684.5 1142.2zM685.3 1141.7L691.9 1137.9L691.9 1145.5zM693.3 1144.2L699.9 1140.4L699.9 1148zM701.5 1145.4L708.2 1141.6L708.2 1149.2zM709 1146.7L715.6 1142.9L715.6 1150.4zM716.4 1147.9L723.1 1144.1L723.1 1151.7zM723.9 1148.4L730.6 1144.6L730.6 1152.2z" fill="#000080"/>
</g>
<rect x="156.3" y="667.8" width="618.3" height="487.2" fill="none" stroke="#000" stroke-width="3.2"/>
<path d="M156.3 1155h-10.5M156.3 1094.1h-5.5M156.3 1033.2h-10.5M156.3 972.3h-5.5M156.3 911.4h-10.5M156.3 850.5h-5.5M156.3 789.6h-10.5M156.3 728.7h-5.5M156.3 667.8h-10.5M156.3 1155v10.5M202.8 1155v5.5M230.1 1155v5.5M249.4 1155v5.5M264.3 1155v5.5M276.6 1155v5.5M286.9 1155v5.5M295.9 1155v5.5M303.8 1155v5.5M310.9 1155v10.5M357.4 1155v5.5M384.6 1155v5.5M403.9 1155v5.5M418.9 1155v5.5M431.2 1155v5.5M441.5 1155v5.5M450.5 1155v5.5M458.4 1155v5.5M465.4 1155v10.5M512 1155v5.5M539.2 1155v5.5M558.5 1155v5.5M573.5 1155v5.5M585.7 1155v5.5M596.1 1155v5.5M605 1155v5.5M613 1155v5.5M620 1155v10.5M666.6 1155v5.5M693.8 1155v5.5M713.1 1155v5.5M728.1 1155v5.5M740.3 1155v5.5M750.7 1155v5.5M759.6 1155v5.5M767.5 1155v5.5M774.6 1155v10.5" stroke="#000" stroke-width="3" fill="none"/>
<g font-family='"Liberation Sans", Arial, Helvetica, sans-serif' font-weight="bold" font-size="26" fill="#000" stroke="#000" stroke-width="0.7" stroke-linejoin="round">
<text transform="translate(139.8,1165.4) scale(0.87,1)" text-anchor="end">0</text>
<text transform="translate(139.8,1043.6) scale(0.87,1)" text-anchor="end">400</text>
<text transform="translate(139.8,921.8) scale(0.87,1)" text-anchor="end">800</text>
<text transform="translate(139.8,800) scale(0.87,1)" text-anchor="end">1200</text>
<text transform="translate(139.8,678.2) scale(0.87,1)" text-anchor="end">1600</text>
<text transform="translate(156.3,1191.5) scale(0.87,1)" text-anchor="middle">0.1</text>
<text transform="translate(310.9,1191.5) scale(0.87,1)" text-anchor="middle">1</text>
<text transform="translate(465.4,1191.5) scale(0.87,1)" text-anchor="middle">10</text>
<text transform="translate(620,1191.5) scale(0.87,1)" text-anchor="middle">100</text>
<text transform="translate(774.6,1191.5) scale(0.87,1)" text-anchor="middle">1000</text>
</g>
<text transform="translate(464.7,1231.5) scale(0.905,1)" text-anchor="middle" font-family='"Liberation Sans", Arial, Helvetica, sans-serif' font-weight="bold" font-size="32.5" fill="#000">Strain (%)</text>
<text transform="translate(68.3,897.5) rotate(-90) scale(1,0.93)" text-anchor="middle" font-family='"Liberation Sans", Arial, Helvetica, sans-serif' font-weight="bold" font-size="32" fill="#000">Storage Modulus (Pa)</text>
<rect x="652.5" y="668" width="123.8" height="190" fill="#fff"/>
<path d="M652.5 668V858H774.5" fill="none" stroke="#222" stroke-width="1.2"/>
<path d="M774.6 667.8V1155" stroke="#000" stroke-width="3.2"/>
<path d="M145.8 667.8H776.2" stroke="#000" stroke-width="3.2"/>
<g font-family='"Liberation Sans", Arial, Helvetica, sans-serif' font-size="28" fill="#000">
<path d="M683.4 684.6h6.8v6.8h-6.8z" fill="#000000"/>
<text transform="translate(723,697.8) scale(0.92,1)">5C0</text>
<path d="M683.4 718.6a3.4 3.4 0 1 0 6.8 0a3.4 3.4 0 1 0 -6.8 0z" fill="#ff0000"/>
<text transform="translate(723,728.4) scale(0.92,1)">5C1</text>
<path d="M686.8 745.5L690.4 751.8L683.2 751.8z" fill="#0000ff"/>
<text transform="translate(723,759) scale(0.92,1)">5C2</text>
<path d="M686.8 783.5L690.4 777.2L683.2 777.2z" fill="#ff00ff"/>
<text transform="translate(723,789.6) scale(0.92,1)">8C0</text>
<path d="M686.8 806.1L691 810.4L686.8 814.6L682.5 810.4z" fill="#007f00"/>
<text transform="translate(723,820.2) scale(0.92,1)">8C1</text>
<path d="M683.1 841L689.3 837.4L689.3 844.6z" fill="#000080"/>
<text transform="translate(723,850.8) scale(0.92,1)">8C2</text>
</g>
<text transform="translate(11.8,714.1) scale(0.826,0.816)" font-family='"Liberation Sans", Arial, Helvetica, sans-serif' font-weight="bold" font-size="100" fill="#000">d</text>
</g>
<g id="panel-e">
<defs><clipPath id="cpe"><rect x="1002.7" y="671.1" width="678.6" height="481.8"/></clipPath></defs>
<g clip-path="url(#cpe)">
<path d="M1005.5 1138.4L1005.5 1138.4L1005.5 1138.4L1005.5 1138.4L1005.5 1138.4L1005.6 1138.3L1005.6 1138.3L1005.7 1138.1L1005.7 1138L1005.8 1137.8L1006 1137.6L1006.1 1137.3L1006.3 1136.9L1006.5 1136.5L1006.8 1136L1007.1 1135.5L1007.4 1134.9L1007.8 1134.2L1008.2 1133.4L1008.7 1132.6L1009.1 1131.7L1009.6 1130.8L1010.1 1129.8L1010.7 1128.8L1011.3 1127.8L1011.9 1126.7L1012.5 1125.5L1013.1 1124.4L1013.8 1123.2L1014.4 1122L1015.1 1120.7L1015.8 1119.5L1016.5 1118.2L1017.3 1116.9L1018.1 1115.5L1018.9 1114.1L1019.7 1112.7L1020.6 1111.3L1021.5 1109.9L1022.5 1108.4L1023.5 1106.9L1024.6 1105.3L1025.7 1103.8L1026.8 1102.2L1028.1 1100.5L1029.3 1098.9L1030.7 1097.2L1032.1 1095.6L1033.6 1093.9L1035.2 1092.2L1036.8 1090.5L1038.6 1088.8L1040.4 1087.1L1042.3 1085.4L1044.3 1083.7L1046.4 1082.1L1048.6 1080.5L1051 1078.9L1053.4 1077.3L1056 1075.7L1058.7 1074.2L1061.5 1072.7L1064.5 1071.3L1067.6 1069.9L1070.9 1068.5L1074.4 1067.2L1078.1 1065.9L1081.9 1064.6L1085.9 1063.4L1090.2 1062.3L1094.6 1061.2L1099.2 1060.2L1104.1 1059.2L1109.1 1058.2L1114.3 1057.4L1119.7 1056.6L1125.2 1055.8L1130.8 1055.1L1136.6 1054.5L1142.4 1053.9L1148.3 1053.4L1154.2 1052.9L1160.3 1052.5L1166.3 1052.2L1172.3 1052L1178.4 1051.8L1184.5 1051.6L1190.5 1051.6L1196.6 1051.5L1202.6 1051.5L1208.7 1051.6L1214.8 1051.7L1220.8 1051.7L1226.9 1051.8L1232.9 1052L1239 1052.1L1245.1 1052.2L1251.1 1052.3L1257.2 1052.4L1263.2 1052.4L1269.3 1052.5L1275.4 1052.5L1281.4 1052.5L1287.5 1052.5L1293.5 1052.4L1299.6 1052.4L1305.6 1052.4L1311.7 1052.4L1317.8 1052.3L1323.8 1052.3L1329.9 1052.3L1335.9 1052.3L1342 1052.3L1348.1 1052.3L1354.1 1052.4L1360.2 1052.4L1366.2 1052.5L1372.3 1052.5L1378.4 1052.6L1384.4 1052.7L1390.5 1052.8L1396.5 1052.9L1402.6 1053L1408.6 1053.1L1414.7 1053.2L1420.8 1053.3L1426.8 1053.3L1432.9 1053.4L1438.9 1053.4L1445 1053.5L1451.1 1053.5L1457.1 1053.5L1463.2 1053.6L1469.2 1053.5L1475.3 1053.5L1481.4 1053.5L1487.4 1053.5L1493.5 1053.4L1499.5 1053.3L1505.6 1053.3L1511.6 1053.2L1517.7 1053.1L1523.7 1052.9L1529.7 1052.8L1535.6 1052.7L1541.3 1052.5L1546.9 1052.4L1552.3 1052.2L1557.5 1052L1562.4 1051.9L1567.1 1051.7L1571.4 1051.6L1575.5 1051.5L1579.1 1051.4L1582.3 1051.2L1585.2 1051.1L1587.6 1051.1L1589.6 1051L1591.3 1050.9L1592.7 1050.9L1593.8 1050.8L1594.7 1050.8L1595.4 1050.8L1595.8 1050.8L1596.1 1050.8L1596.3 1050.8L1596.4 1050.8L1596.5 1050.8L1596.5 1050.8" fill="none" stroke="#222" stroke-width="1.1"/>
<path d="M1000.1 1133h10.8v10.8h-10.8zM1007.9 1118.6h10.8v10.8h-10.8zM1018.5 1099.3h10.8v10.8h-10.8zM1039.7 1074.3h10.8v10.8h-10.8zM1082.1 1054h10.8v10.8h-10.8zM1166.9 1044.4h10.8v10.8h-10.8zM1251.8 1047.8h10.8v10.8h-10.8zM1336.6 1046.3h10.8v10.8h-10.8zM1421.4 1048.2h10.8v10.8h-10.8zM1506.2 1048.2h10.8v10.8h-10.8zM1591.1 1045.4h10.8v10.8h-10.8z" fill="#000000"/>
<path d="M1005.5 1131.7L1005.5 1131.7L1005.5 1131.7L1005.5 1131.7L1005.5 1131.6L1005.6 1131.6L1005.6 1131.5L1005.7 1131.4L1005.7 1131.2L1005.8 1131L1006 1130.8L1006.1 1130.5L1006.3 1130.1L1006.5 1129.6L1006.8 1129.1L1007.1 1128.5L1007.4 1127.9L1007.8 1127.2L1008.2 1126.4L1008.7 1125.5L1009.1 1124.6L1009.6 1123.7L1010.1 1122.7L1010.7 1121.8L1011.3 1120.7L1011.9 1119.7L1012.5 1118.7L1013.1 1117.6L1013.8 1116.6L1014.4 1115.6L1015.1 1114.6L1015.8 1113.5L1016.5 1112.5L1017.3 1111.5L1018.1 1110.4L1018.9 1109.4L1019.7 1108.3L1020.6 1107.2L1021.5 1106.1L1022.5 1105L1023.5 1103.8L1024.6 1102.6L1025.7 1101.3L1026.8 1100.1L1028.1 1098.7L1029.3 1097.3L1030.7 1095.9L1032.1 1094.4L1033.6 1092.9L1035.2 1091.3L1036.8 1089.7L1038.6 1088.1L1040.4 1086.3L1042.3 1084.6L1044.3 1082.8L1046.4 1080.9L1048.6 1079L1051 1077.1L1053.4 1075.1L1056 1073L1058.7 1070.8L1061.5 1068.6L1064.5 1066.3L1067.6 1063.8L1070.9 1061.3L1074.4 1058.6L1078.1 1055.8L1081.9 1052.9L1085.9 1049.8L1090.2 1046.6L1094.6 1043.2L1099.2 1039.7L1104.1 1035.9L1109.1 1032.1L1114.3 1028.1L1119.7 1024L1125.2 1019.8L1130.8 1015.5L1136.6 1011.2L1142.4 1006.8L1148.3 1002.4L1154.2 997.9L1160.3 993.5L1166.3 989L1172.3 984.6L1178.4 980.2L1184.5 975.9L1190.5 971.6L1196.6 967.3L1202.6 963.1L1208.7 958.9L1214.8 954.8L1220.8 950.7L1226.9 946.6L1232.9 942.6L1239 938.7L1245.1 934.8L1251.1 930.9L1257.2 927.1L1263.2 923.3L1269.3 919.6L1275.4 916L1281.4 912.3L1287.5 908.8L1293.5 905.3L1299.6 901.8L1305.6 898.4L1311.7 895L1317.8 891.6L1323.8 888.4L1329.9 885.1L1335.9 881.9L1342 878.8L1348.1 875.6L1354.1 872.6L1360.2 869.6L1366.2 866.7L1372.3 863.8L1378.4 861L1384.4 858.4L1390.5 855.8L1396.5 853.3L1402.6 850.9L1408.6 848.7L1414.7 846.6L1420.8 844.6L1426.8 842.8L1432.9 841.1L1438.9 839.6L1445 838.1L1451.1 836.8L1457.1 835.7L1463.2 834.6L1469.2 833.5L1475.3 832.6L1481.4 831.7L1487.4 830.8L1493.5 830L1499.5 829.2L1505.6 828.3L1511.6 827.5L1517.7 826.7L1523.7 825.8L1529.7 825L1535.6 824.1L1541.3 823.3L1546.9 822.4L1552.3 821.6L1557.5 820.8L1562.4 820.1L1567.1 819.3L1571.4 818.7L1575.5 818L1579.1 817.4L1582.3 816.9L1585.2 816.5L1587.6 816.1L1589.6 815.8L1591.3 815.5L1592.7 815.3L1593.8 815.1L1594.7 815L1595.4 814.9L1595.8 814.8L1596.1 814.7L1596.3 814.7L1596.4 814.7L1596.5 814.7L1596.5 814.7" fill="none" stroke="#f03030" stroke-width="1.1"/>
<path d="M1005.5 1128.8V1134.6M1000.5 1128.8h10M1000.5 1134.6h10M1013.3 1112.4V1120.1M1008.3 1112.4h10M1008.3 1120.1h10M1023.9 1098.9V1106.6M1018.9 1098.9h10M1018.9 1106.6h10M1045.1 1076.8V1084.5M1040.1 1076.8h10M1040.1 1084.5h10M1087.5 1043V1054.6M1082.5 1043h10M1082.5 1054.6h10M1172.3 974.6V992M1167.3 974.6h10M1167.3 992h10M1257.2 913.9V937.1M1252.2 913.9h10M1252.2 937.1h10M1342 863.8V890.8M1337 863.8h10M1337 890.8h10M1426.8 821.4V854.2M1421.8 821.4h10M1421.8 854.2h10M1511.7 811.8V844.5M1506.7 811.8h10M1506.7 844.5h10M1596.5 798.3V831.1M1591.5 798.3h10M1591.5 831.1h10" fill="none" stroke="#ff0000" stroke-width="1.1"/>
<path d="M999.3 1131.7a6.2 6.2 0 1 0 12.4 0a6.2 6.2 0 1 0 -12.4 0zM1007.1 1116.3a6.2 6.2 0 1 0 12.4 0a6.2 6.2 0 1 0 -12.4 0zM1017.7 1102.8a6.2 6.2 0 1 0 12.4 0a6.2 6.2 0 1 0 -12.4 0zM1038.9 1080.6a6.2 6.2 0 1 0 12.4 0a6.2 6.2 0 1 0 -12.4 0zM1081.3 1048.8a6.2 6.2 0 1 0 12.4 0a6.2 6.2 0 1 0 -12.4 0zM1166.1 983.3a6.2 6.2 0 1 0 12.4 0a6.2 6.2 0 1 0 -12.4 0zM1251 925.5a6.2 6.2 0 1 0 12.4 0a6.2 6.2 0 1 0 -12.4 0zM1335.8 877.3a6.2 6.2 0 1 0 12.4 0a6.2 6.2 0 1 0 -12.4 0zM1420.6 837.8a6.2 6.2 0 1 0 12.4 0a6.2 6.2 0 1 0 -12.4 0zM1505.5 828.2a6.2 6.2 0 1 0 12.4 0a6.2 6.2 0 1 0 -12.4 0zM1590.3 814.7a6.2 6.2 0 1 0 12.4 0a6.2 6.2 0 1 0 -12.4 0z" fill="#ff0000"/>
<path d="M1005.5 1124L1005.5 1124L1005.5 1124L1005.5 1124L1005.5 1123.9L1005.6 1123.8L1005.6 1123.7L1005.7 1123.5L1005.7 1123.3L1005.8 1123L1006 1122.6L1006.1 1122.1L1006.3 1121.6L1006.5 1120.9L1006.8 1120.1L1007.1 1119.3L1007.4 1118.3L1007.8 1117.2L1008.2 1116L1008.7 1114.8L1009.1 1113.4L1009.6 1112.1L1010.1 1110.7L1010.7 1109.2L1011.3 1107.7L1011.9 1106.3L1012.5 1104.8L1013.1 1103.3L1013.8 1101.8L1014.4 1100.4L1015.1 1099L1015.8 1097.6L1016.5 1096.2L1017.3 1094.9L1018.1 1093.5L1018.9 1092.2L1019.7 1090.9L1020.6 1089.5L1021.5 1088.2L1022.5 1086.9L1023.5 1085.5L1024.6 1084.1L1025.7 1082.7L1026.8 1081.3L1028.1 1079.8L1029.3 1078.3L1030.7 1076.8L1032.1 1075.2L1033.6 1073.5L1035.2 1071.8L1036.8 1070L1038.6 1068.1L1040.4 1066.1L1042.3 1064.1L1044.3 1061.9L1046.4 1059.6L1048.6 1057.2L1051 1054.6L1053.4 1052L1056 1049.1L1058.7 1046.2L1061.5 1043L1064.5 1039.7L1067.6 1036.2L1070.9 1032.5L1074.4 1028.6L1078.1 1024.5L1081.9 1020.2L1085.9 1015.7L1090.2 1011L1094.6 1006L1099.2 1000.7L1104.1 995.2L1109.1 989.6L1114.3 983.8L1119.7 977.8L1125.2 971.7L1130.8 965.6L1136.6 959.5L1142.4 953.3L1148.3 947.1L1154.2 941L1160.3 935L1166.3 929L1172.3 923.2L1178.4 917.6L1184.5 912.1L1190.5 906.8L1196.6 901.5L1202.6 896.4L1208.7 891.3L1214.8 886.3L1220.8 881.3L1226.9 876.3L1232.9 871.4L1239 866.4L1245.1 861.4L1251.1 856.3L1257.2 851.1L1263.2 845.9L1269.3 840.6L1275.4 835.2L1281.4 829.9L1287.5 824.5L1293.5 819.1L1299.6 813.8L1305.6 808.6L1311.7 803.5L1317.8 798.5L1323.8 793.6L1329.9 788.9L1335.9 784.4L1342 780.1L1348.1 776.1L1354.1 772.3L1360.2 768.7L1366.2 765.4L1372.3 762.2L1378.4 759.3L1384.4 756.6L1390.5 754.1L1396.5 751.8L1402.6 749.7L1408.6 747.7L1414.7 746L1420.8 744.4L1426.8 743L1432.9 741.8L1438.9 740.8L1445 739.8L1451.1 739L1457.1 738.3L1463.2 737.8L1469.2 737.3L1475.3 736.9L1481.4 736.5L1487.4 736.2L1493.5 736L1499.5 735.8L1505.6 735.5L1511.6 735.3L1517.7 735.1L1523.7 734.9L1529.7 734.7L1535.6 734.5L1541.3 734.2L1546.9 734L1552.3 733.8L1557.5 733.6L1562.4 733.3L1567.1 733.1L1571.4 732.9L1575.5 732.8L1579.1 732.6L1582.3 732.4L1585.2 732.3L1587.6 732.2L1589.6 732.1L1591.3 732L1592.7 732L1593.8 731.9L1594.7 731.9L1595.4 731.9L1595.8 731.8L1596.1 731.8L1596.3 731.8L1596.4 731.8L1596.5 731.8L1596.5 731.8" fill="none" stroke="#3030f0" stroke-width="1.1"/>
<path d="M1005.5 1121.1V1126.9M1000.5 1121.1h10M1000.5 1126.9h10M1013.3 1097V1104.7M1008.3 1097h10M1008.3 1104.7h10M1023.9 1078.7V1088.3M1018.9 1078.7h10M1018.9 1088.3h10M1045.1 1055.6V1067.1M1040.1 1055.6h10M1040.1 1067.1h10M1087.5 1005.5V1022.8M1082.5 1005.5h10M1082.5 1022.8h10M1172.3 906.2V929.3M1167.3 906.2h10M1167.3 929.3h10M1257.2 840.7V867.7M1252.2 840.7h10M1252.2 867.7h10M1342 754V790.6M1337 754h10M1337 790.6h10M1426.8 716.4V758.8M1421.8 716.4h10M1421.8 758.8h10M1511.7 714.5V756.9M1506.7 714.5h10M1506.7 756.9h10M1596.5 710.6V753M1591.5 710.6h10M1591.5 753h10" fill="none" stroke="#0000ff" stroke-width="1.1"/>
<path d="M1005.5 1116.1L1013.1 1129.4L997.9 1129.4zM1013.3 1092.9L1020.9 1106.3L1005.7 1106.3zM1023.9 1075.6L1031.5 1088.9L1016.3 1088.9zM1045.1 1053.4L1052.7 1066.8L1037.6 1066.8zM1087.5 1006.2L1095.1 1019.5L1080 1019.5zM1172.3 909.9L1179.9 923.2L1164.8 923.2zM1257.2 846.3L1264.7 859.6L1249.6 859.6zM1342 764.4L1349.6 777.7L1334.4 777.7zM1426.8 729.7L1434.4 743L1419.3 743zM1511.7 727.7L1519.2 741.1L1504.1 741.1zM1596.5 723.9L1604 737.2L1588.9 737.2z" fill="#0000ff"/>
<path d="M1005.5 1104.7L1005.5 1104.7L1005.5 1104.7L1005.5 1104.7L1005.5 1104.6L1005.6 1104.4L1005.6 1104.2L1005.7 1103.9L1005.7 1103.5L1005.8 1102.9L1006 1102.3L1006.1 1101.4L1006.3 1100.5L1006.5 1099.3L1006.8 1098L1007.1 1096.4L1007.4 1094.7L1007.8 1092.8L1008.2 1090.8L1008.7 1088.7L1009.1 1086.5L1009.6 1084.2L1010.1 1081.9L1010.7 1079.6L1011.3 1077.3L1011.9 1075L1012.5 1072.8L1013.1 1070.7L1013.8 1068.7L1014.4 1066.9L1015.1 1065.2L1015.8 1063.6L1016.5 1062.1L1017.3 1060.7L1018.1 1059.5L1018.9 1058.3L1019.7 1057.2L1020.6 1056.3L1021.5 1055.4L1022.5 1054.6L1023.5 1053.9L1024.6 1053.2L1025.7 1052.6L1026.8 1052.1L1028.1 1051.6L1029.3 1051.1L1030.7 1050.7L1032.1 1050.4L1033.6 1050L1035.2 1049.7L1036.8 1049.4L1038.6 1049.1L1040.4 1048.8L1042.3 1048.5L1044.3 1048.2L1046.4 1047.9L1048.6 1047.5L1051 1047.2L1053.4 1046.8L1056 1046.4L1058.7 1046L1061.5 1045.6L1064.5 1045.1L1067.6 1044.6L1070.9 1044.1L1074.4 1043.6L1078.1 1043.1L1081.9 1042.6L1085.9 1042.1L1090.2 1041.6L1094.6 1041L1099.2 1040.5L1104.1 1040L1109.1 1039.4L1114.3 1038.9L1119.7 1038.3L1125.2 1037.7L1130.8 1037.1L1136.6 1036.5L1142.4 1035.9L1148.3 1035.2L1154.2 1034.5L1160.3 1033.8L1166.3 1033.1L1172.3 1032.3L1178.4 1031.5L1184.5 1030.6L1190.5 1029.8L1196.6 1028.9L1202.6 1028L1208.7 1027L1214.8 1026.1L1220.8 1025.2L1226.9 1024.2L1232.9 1023.2L1239 1022.3L1245.1 1021.3L1251.1 1020.4L1257.2 1019.4L1263.2 1018.5L1269.3 1017.6L1275.4 1016.7L1281.4 1015.8L1287.5 1014.9L1293.5 1014.1L1299.6 1013.2L1305.6 1012.3L1311.7 1011.4L1317.8 1010.5L1323.8 1009.6L1329.9 1008.7L1335.9 1007.8L1342 1006.9L1348.1 1006L1354.1 1005L1360.2 1004.1L1366.2 1003.1L1372.3 1002.1L1378.4 1001L1384.4 1000L1390.5 998.9L1396.5 997.9L1402.6 996.8L1408.6 995.6L1414.7 994.5L1420.8 993.3L1426.8 992.1L1432.9 990.9L1438.9 989.7L1445 988.4L1451.1 987.2L1457.1 985.9L1463.2 984.7L1469.2 983.4L1475.3 982.2L1481.4 981L1487.4 979.9L1493.5 978.7L1499.5 977.6L1505.6 976.6L1511.6 975.6L1517.7 974.7L1523.7 973.8L1529.7 973L1535.6 972.2L1541.3 971.5L1546.9 970.8L1552.3 970.2L1557.5 969.7L1562.4 969.1L1567.1 968.7L1571.4 968.3L1575.5 967.9L1579.1 967.5L1582.3 967.2L1585.2 967L1587.6 966.8L1589.6 966.6L1591.3 966.4L1592.7 966.3L1593.8 966.2L1594.7 966.1L1595.4 966.1L1595.8 966L1596.1 966L1596.3 966L1596.4 966L1596.5 966L1596.5 966" fill="none" stroke="#f040f0" stroke-width="1.1"/>
<path d="M1005.5 1101.8V1107.6M1000.5 1101.8h10M1000.5 1107.6h10M1013.3 1060.4V1068.1M1008.3 1060.4h10M1008.3 1068.1h10M1023.9 1045.9V1055.6M1018.9 1045.9h10M1018.9 1055.6h10M1045.1 1043.5V1053.2M1040.1 1043.5h10M1040.1 1053.2h10M1087.5 1035.3V1046.9M1082.5 1035.3h10M1082.5 1046.9h10M1172.3 1025.7V1041.1M1167.3 1025.7h10M1167.3 1041.1h10M1257.2 1011.3V1026.7M1252.2 1011.3h10M1252.2 1026.7h10M1342 999.7V1015.1M1337 999.7h10M1337 1015.1h10M1426.8 984.3V1001.6M1421.8 984.3h10M1421.8 1001.6h10M1511.7 964V983.3M1506.7 964h10M1506.7 983.3h10M1596.5 957.3V974.6M1591.5 957.3h10M1591.5 974.6h10" fill="none" stroke="#ff00ff" stroke-width="1.1"/>
<path d="M1005.5 1112.6L1013.1 1099.3L997.9 1099.3zM1013.3 1072.2L1020.9 1058.8L1005.7 1058.8zM1023.9 1058.7L1031.5 1045.4L1016.3 1045.4zM1045.1 1056.3L1052.7 1042.9L1037.6 1042.9zM1087.5 1049L1095.1 1035.7L1080 1035.7zM1172.3 1041.3L1179.9 1028L1164.8 1028zM1257.2 1026.9L1264.7 1013.6L1249.6 1013.6zM1342 1015.3L1349.6 1002L1334.4 1002zM1426.8 1000.9L1434.4 987.5L1419.3 987.5zM1511.7 981.6L1519.2 968.3L1504.1 968.3zM1596.5 973.9L1604 960.6L1588.9 960.6z" fill="#ff00ff"/>
<path d="M1005.5 1125.9L1005.5 1125.9L1005.5 1125.9L1005.5 1125.9L1005.5 1125.9L1005.6 1125.8L1005.6 1125.8L1005.7 1125.7L1005.7 1125.6L1005.8 1125.4L1006 1125.2L1006.1 1125L1006.3 1124.7L1006.5 1124.4L1006.8 1124L1007.1 1123.5L1007.4 1123.1L1007.8 1122.5L1008.2 1121.9L1008.7 1121.2L1009.1 1120.6L1009.6 1119.8L1010.1 1119L1010.7 1118.2L1011.3 1117.4L1011.9 1116.5L1012.5 1115.6L1013.1 1114.7L1013.8 1113.7L1014.4 1112.7L1015.1 1111.7L1015.8 1110.7L1016.5 1109.7L1017.3 1108.6L1018.1 1107.6L1018.9 1106.5L1019.7 1105.3L1020.6 1104.2L1021.5 1103L1022.5 1101.8L1023.5 1100.6L1024.6 1099.4L1025.7 1098.1L1026.8 1096.8L1028.1 1095.5L1029.3 1094.2L1030.7 1092.8L1032.1 1091.4L1033.6 1090L1035.2 1088.5L1036.8 1087L1038.6 1085.5L1040.4 1083.9L1042.3 1082.3L1044.3 1080.7L1046.4 1079L1048.6 1077.3L1051 1075.5L1053.4 1073.7L1056 1071.8L1058.7 1069.8L1061.5 1067.8L1064.5 1065.8L1067.6 1063.7L1070.9 1061.5L1074.4 1059.2L1078.1 1056.8L1081.9 1054.4L1085.9 1051.9L1090.2 1049.3L1094.6 1046.6L1099.2 1043.8L1104.1 1040.9L1109.1 1037.9L1114.3 1034.8L1119.7 1031.6L1125.2 1028.4L1130.8 1025L1136.6 1021.6L1142.4 1018.1L1148.3 1014.5L1154.2 1010.8L1160.3 1007.1L1166.3 1003.3L1172.3 999.4L1178.4 995.4L1184.5 991.4L1190.5 987.3L1196.6 983.3L1202.6 979.1L1208.7 975L1214.8 970.9L1220.8 966.8L1226.9 962.7L1232.9 958.7L1239 954.7L1245.1 950.8L1251.1 946.9L1257.2 943.2L1263.2 939.5L1269.3 935.9L1275.4 932.5L1281.4 929.1L1287.5 925.9L1293.5 922.8L1299.6 919.7L1305.6 916.9L1311.7 914.1L1317.8 911.5L1323.8 909L1329.9 906.6L1335.9 904.4L1342 902.4L1348.1 900.4L1354.1 898.7L1360.2 897L1366.2 895.5L1372.3 894.1L1378.4 892.8L1384.4 891.6L1390.5 890.5L1396.5 889.5L1402.6 888.6L1408.6 887.8L1414.7 887L1420.8 886.3L1426.8 885.7L1432.9 885.1L1438.9 884.5L1445 884L1451.1 883.5L1457.1 883.1L1463.2 882.6L1469.2 882.2L1475.3 881.8L1481.4 881.4L1487.4 880.9L1493.5 880.5L1499.5 880L1505.6 879.6L1511.6 879.1L1517.7 878.5L1523.7 878L1529.7 877.4L1535.6 876.8L1541.3 876.2L1546.9 875.6L1552.3 875L1557.5 874.4L1562.4 873.8L1567.1 873.2L1571.4 872.7L1575.5 872.2L1579.1 871.8L1582.3 871.4L1585.2 871L1587.6 870.7L1589.6 870.5L1591.3 870.2L1592.7 870.1L1593.8 869.9L1594.7 869.8L1595.4 869.7L1595.8 869.7L1596.1 869.6L1596.3 869.6L1596.4 869.6L1596.5 869.6L1596.5 869.6" fill="none" stroke="#208a20" stroke-width="1.1"/>
<path d="M1005.5 1123V1128.8M1000.5 1123h10M1000.5 1128.8h10M1013.3 1110.5V1118.2M1008.3 1110.5h10M1008.3 1118.2h10M1023.9 1095.1V1102.8M1018.9 1095.1h10M1018.9 1102.8h10M1045.1 1073.9V1083.5M1040.1 1073.9h10M1040.1 1083.5h10M1087.5 1044V1055.6M1082.5 1044h10M1082.5 1055.6h10M1172.3 992.9V1010.3M1167.3 992.9h10M1167.3 1010.3h10M1257.2 930.3V949.6M1252.2 930.3h10M1252.2 949.6h10M1342 885V910.1M1337 885h10M1337 910.1h10M1426.8 870.6V897.5M1421.8 870.6h10M1421.8 897.5h10M1511.7 866.7V893.7M1506.7 866.7h10M1506.7 893.7h10M1596.5 855.1V884.1M1591.5 855.1h10M1591.5 884.1h10" fill="none" stroke="#007f00" stroke-width="1.1"/>
<path d="M1005.5 1118.2L1013.2 1125.9L1005.5 1133.7L997.7 1125.9zM1013.3 1106.6L1021.1 1114.4L1013.3 1122.1L1005.6 1114.4zM1023.9 1091.2L1031.7 1098.9L1023.9 1106.7L1016.2 1098.9zM1045.1 1071L1052.9 1078.7L1045.1 1086.5L1037.4 1078.7zM1087.5 1042L1095.3 1049.8L1087.5 1057.5L1079.8 1049.8zM1172.3 993.9L1180.1 1001.6L1172.3 1009.4L1164.6 1001.6zM1257.2 932.2L1264.9 939.9L1257.2 947.7L1249.4 939.9zM1342 889.8L1349.8 897.5L1342 905.3L1334.2 897.5zM1426.8 876.3L1434.6 884.1L1426.8 891.8L1419.1 884.1zM1511.7 872.5L1519.4 880.2L1511.7 888L1503.9 880.2zM1596.5 861.9L1604.2 869.6L1596.5 877.4L1588.7 869.6z" fill="#007f00"/>
<path d="M1005.5 1119.2L1005.5 1119.2L1005.5 1119.2L1005.5 1119.1L1005.5 1119.1L1005.6 1119L1005.6 1118.9L1005.7 1118.8L1005.7 1118.6L1005.8 1118.3L1006 1118L1006.1 1117.6L1006.3 1117.2L1006.5 1116.6L1006.8 1116L1007.1 1115.2L1007.4 1114.4L1007.8 1113.5L1008.2 1112.5L1008.7 1111.4L1009.1 1110.3L1009.6 1109.1L1010.1 1107.9L1010.7 1106.6L1011.3 1105.3L1011.9 1103.9L1012.5 1102.5L1013.1 1101.1L1013.8 1099.7L1014.4 1098.3L1015.1 1096.9L1015.8 1095.5L1016.5 1094L1017.3 1092.6L1018.1 1091.1L1018.9 1089.7L1019.7 1088.2L1020.6 1086.7L1021.5 1085.2L1022.5 1083.7L1023.5 1082.2L1024.6 1080.6L1025.7 1079L1026.8 1077.4L1028.1 1075.8L1029.3 1074.2L1030.7 1072.5L1032.1 1070.7L1033.6 1068.9L1035.2 1067L1036.8 1065.1L1038.6 1063.1L1040.4 1061L1042.3 1058.8L1044.3 1056.5L1046.4 1054.1L1048.6 1051.6L1051 1048.9L1053.4 1046.2L1056 1043.3L1058.7 1040.3L1061.5 1037.1L1064.5 1033.9L1067.6 1030.5L1070.9 1027L1074.4 1023.4L1078.1 1019.7L1081.9 1015.8L1085.9 1011.8L1090.2 1007.8L1094.6 1003.5L1099.2 999.2L1104.1 994.8L1109.1 990.2L1114.3 985.6L1119.7 980.9L1125.2 976.1L1130.8 971.3L1136.6 966.4L1142.4 961.4L1148.3 956.4L1154.2 951.4L1160.3 946.4L1166.3 941.3L1172.3 936.3L1178.4 931.2L1184.5 926.2L1190.5 921.1L1196.6 916.1L1202.6 911.2L1208.7 906.2L1214.8 901.3L1220.8 896.5L1226.9 891.7L1232.9 887L1239 882.4L1245.1 877.8L1251.1 873.3L1257.2 869L1263.2 864.7L1269.3 860.5L1275.4 856.4L1281.4 852.5L1287.5 848.6L1293.5 845L1299.6 841.4L1305.6 838L1311.7 834.7L1317.8 831.6L1323.8 828.7L1329.9 825.9L1335.9 823.3L1342 820.9L1348.1 818.7L1354.1 816.7L1360.2 814.8L1366.2 813.1L1372.3 811.6L1378.4 810.2L1384.4 808.9L1390.5 807.7L1396.5 806.7L1402.6 805.7L1408.6 804.8L1414.7 804L1420.8 803.3L1426.8 802.6L1432.9 802L1438.9 801.4L1445 800.8L1451.1 800.3L1457.1 799.8L1463.2 799.3L1469.2 798.8L1475.3 798.2L1481.4 797.7L1487.4 797.2L1493.5 796.6L1499.5 796L1505.6 795.4L1511.6 794.8L1517.7 794.1L1523.7 793.3L1529.7 792.5L1535.6 791.7L1541.3 790.9L1546.9 790.1L1552.3 789.2L1557.5 788.4L1562.4 787.6L1567.1 786.9L1571.4 786.2L1575.5 785.5L1579.1 784.9L1582.3 784.3L1585.2 783.8L1587.6 783.4L1589.6 783.1L1591.3 782.8L1592.7 782.6L1593.8 782.4L1594.7 782.2L1595.4 782.1L1595.8 782L1596.1 782L1596.3 781.9L1596.4 781.9L1596.5 781.9L1596.5 781.9" fill="none" stroke="#202090" stroke-width="1.1"/>
<path d="M1005.5 1116.3V1122.1M1000.5 1116.3h10M1000.5 1122.1h10M1013.3 1096V1103.8M1008.3 1096h10M1008.3 1103.8h10M1023.9 1074.8V1084.5M1018.9 1074.8h10M1018.9 1084.5h10M1045.1 1049.8V1061.4M1040.1 1049.8h10M1040.1 1061.4h10M1087.5 998.7V1016.1M1082.5 998.7h10M1082.5 1016.1h10M1172.3 925.5V946.7M1167.3 925.5h10M1167.3 946.7h10M1257.2 852.3V879.2M1252.2 852.3h10M1252.2 879.2h10M1342 798.3V831.1M1337 798.3h10M1337 831.1h10M1426.8 782.9V819.5M1421.8 782.9h10M1421.8 819.5h10M1511.7 779V813.7M1506.7 779h10M1506.7 813.7h10M1596.5 763.6V800.2M1591.5 763.6h10M1591.5 800.2h10" fill="none" stroke="#000080" stroke-width="1.1"/>
<path d="M997.6 1119.2L1010.9 1111.6L1010.9 1126.7zM1005.4 1099.9L1018.7 1092.3L1018.7 1107.5zM1016 1079.7L1029.3 1072.1L1029.3 1087.2zM1037.2 1055.6L1050.5 1048L1050.5 1063.1zM1079.6 1007.4L1092.9 999.8L1092.9 1015zM1164.4 936.1L1177.8 928.5L1177.8 943.6zM1249.3 865.7L1262.6 858.2L1262.6 873.3zM1334.1 814.7L1347.4 807.1L1347.4 822.2zM1418.9 801.2L1432.2 793.6L1432.2 808.7zM1503.7 796.4L1517.1 788.8L1517.1 803.9zM1588.6 781.9L1601.9 774.4L1601.9 789.5z" fill="#000080"/>
</g>
<rect x="1002.7" y="671.1" width="678.6" height="481.8" fill="none" stroke="#000" stroke-width="3.5"/>
<path d="M1002.7 1152.9h-11M1002.7 1104.7h-6M1002.7 1056.5h-11M1002.7 1008.4h-6M1002.7 960.2h-11M1002.7 912h-6M1002.7 863.8h-11M1002.7 815.6h-6M1002.7 767.5h-11M1002.7 719.3h-6M1002.7 671.1h-11M1002.7 1152.9v11.5M1045.1 1152.9v6.5M1087.5 1152.9v11.5M1129.9 1152.9v6.5M1172.3 1152.9v11.5M1214.8 1152.9v6.5M1257.2 1152.9v11.5M1299.6 1152.9v6.5M1342 1152.9v11.5M1384.4 1152.9v6.5M1426.8 1152.9v11.5M1469.2 1152.9v6.5M1511.7 1152.9v11.5M1554.1 1152.9v6.5M1596.5 1152.9v11.5M1638.9 1152.9v6.5M1681.3 1152.9v11.5" stroke="#000" stroke-width="3" fill="none"/>
<g font-family='"Liberation Sans", Arial, Helvetica, sans-serif' font-size="26.5" fill="#000">
<text x="984.8" y="1162.5" text-anchor="end">0</text>
<text x="984.8" y="1066.1" text-anchor="end">1000</text>
<text x="984.8" y="969.8" text-anchor="end">2000</text>
<text x="984.8" y="873.4" text-anchor="end">3000</text>
<text x="984.8" y="777.1" text-anchor="end">4000</text>
<text x="984.8" y="680.7" text-anchor="end">5000</text>
<text x="1002.7" y="1189.3" text-anchor="middle">0</text>
<text x="1087.5" y="1189.3" text-anchor="middle">1</text>
<text x="1172.3" y="1189.3" text-anchor="middle">2</text>
<text x="1257.2" y="1189.3" text-anchor="middle">3</text>
<text x="1342" y="1189.3" text-anchor="middle">4</text>
<text x="1426.8" y="1189.3" text-anchor="middle">5</text>
<text x="1511.7" y="1189.3" text-anchor="middle">6</text>
<text x="1596.5" y="1189.3" text-anchor="middle">7</text>
<text x="1681.3" y="1189.3" text-anchor="middle">8</text>
</g>
<text x="1342" y="1241.5" text-anchor="middle" font-family='"Liberation Sans", Arial, Helvetica, sans-serif' font-weight="bold" font-size="34" fill="#000">Time (h)</text>
<text transform="translate(902.5,931) rotate(-90)" text-anchor="middle" font-family='"Liberation Sans", Arial, Helvetica, sans-serif' font-weight="bold" font-size="32.8" fill="#000">Water Uptake (%)</text>
<g font-family='"Liberation Sans", Arial, Helvetica, sans-serif' font-size="26.4" fill="#000">
<path d="M1038.5 715.5H1098.5" stroke="#222" stroke-width="1.1"/>
<path d="M1063.5 710.5h10v10h-10z" fill="#000000"/>
<text x="1106" y="724.7">5C0</text>
<path d="M1038.5 744.4H1098.5" stroke="#f03030" stroke-width="1.1"/>
<path d="M1062.5 744.4a6 6 0 1 0 12 0a6 6 0 1 0 -12 0z" fill="#ff0000"/>
<text x="1106" y="753.6">5C1</text>
<path d="M1038.5 773.3H1098.5" stroke="#3030f0" stroke-width="1.1"/>
<path d="M1068.5 765.8L1075.6 778.4L1061.4 778.4z" fill="#0000ff"/>
<text x="1106" y="782.5">5C2</text>
<path d="M1038.5 802.2H1098.5" stroke="#f040f0" stroke-width="1.1"/>
<path d="M1068.5 809.7L1075.6 797.1L1061.4 797.1z" fill="#ff00ff"/>
<text x="1106" y="811.4">8C0</text>
<path d="M1038.5 831.1H1098.5" stroke="#208a20" stroke-width="1.1"/>
<path d="M1068.5 823.6L1076 831.1L1068.5 838.6L1061 831.1z" fill="#007f00"/>
<text x="1106" y="840.3">8C1</text>
<path d="M1038.5 860H1098.5" stroke="#202090" stroke-width="1.1"/>
<path d="M1061 860L1073.6 852.9L1073.6 867.1z" fill="#000080"/>
<text x="1106" y="869.2">8C2</text>
</g>
<text transform="translate(828.79,704.51) scale(0.769,0.746)" font-family='"Liberation Sans", Arial, Helvetica, sans-serif' font-size="100" fill="#000" stroke="#000" stroke-width="2" stroke-linejoin="round">e</text>
</g>
</svg>
</body>
</html>
